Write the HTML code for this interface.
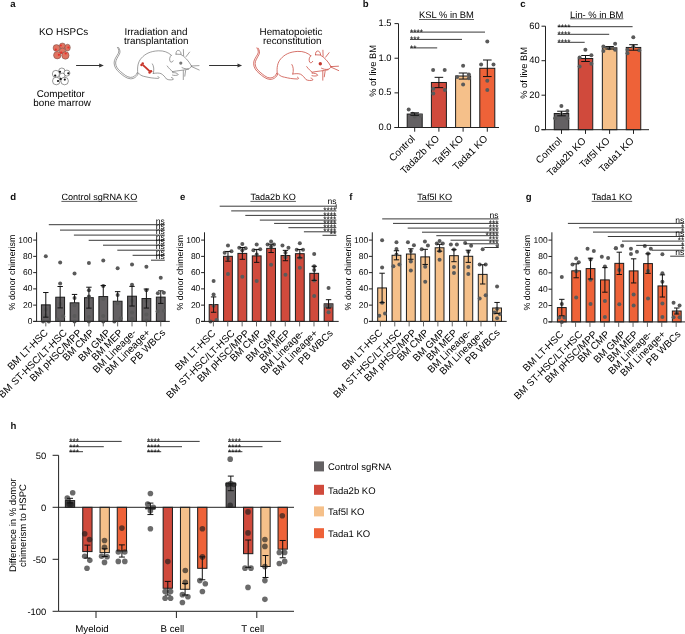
<!DOCTYPE html>
<html><head><meta charset="utf-8"><style>
html,body{margin:0;padding:0;background:#fff;}
svg{display:block;will-change:transform;}
text{font-family:"Liberation Sans", sans-serif;text-rendering:geometricPrecision;}
</style></head><body>
<svg width="685" height="634" viewBox="0 0 685 634">
<rect width="685" height="634" fill="#fff"/>
<text x="10.20" y="6.90" font-size="9.6" text-anchor="start" font-weight="bold" fill="#111">a</text>
<text x="63.60" y="34.60" font-size="9.85" text-anchor="middle" fill="#000">KO HSPCs</text>
<text x="60.80" y="96.80" font-size="9.85" text-anchor="middle" fill="#000">Competitor</text>
<text x="62.10" y="106.40" font-size="9.85" text-anchor="middle" fill="#000">bone marrow</text>
<text x="156.00" y="34.60" font-size="9.85" text-anchor="middle" fill="#000">Irradiation and</text>
<text x="156.20" y="44.10" font-size="9.85" text-anchor="middle" fill="#000">transplantation</text>
<text x="291.00" y="34.60" font-size="9.85" text-anchor="middle" fill="#000">Hematopoietic</text>
<text x="292.20" y="44.10" font-size="9.85" text-anchor="middle" fill="#000">reconstitution</text>
<ellipse cx="62.4" cy="46.0" rx="3.0" ry="3.0" fill="#df7461" stroke="#6a4a44" stroke-width="0.5"/>
<ellipse cx="67.6" cy="47.6" rx="2.7" ry="3.4" fill="#df7461" stroke="#6a4a44" stroke-width="0.5"/>
<ellipse cx="56.5" cy="48.0" rx="3.4" ry="3.4" fill="#df7461" stroke="#6a4a44" stroke-width="0.5"/>
<ellipse cx="62.5" cy="50.9" rx="3.1" ry="2.9" fill="#df7461" stroke="#6a4a44" stroke-width="0.5"/>
<ellipse cx="57.3" cy="55.2" rx="3.75" ry="3.7" fill="#df7461" stroke="#6a4a44" stroke-width="0.5"/>
<ellipse cx="65.4" cy="55.4" rx="3.65" ry="3.8" fill="#df7461" stroke="#6a4a44" stroke-width="0.5"/>
<circle cx="60.8" cy="45.5" r="1.1" fill="#e8302b"/>
<circle cx="68.4" cy="47.5" r="1.1" fill="#e8302b"/>
<circle cx="55.8" cy="49.7" r="1.1" fill="#e8302b"/>
<circle cx="61.3" cy="52.7" r="1.1" fill="#e8302b"/>
<circle cx="58.9" cy="54.8" r="1.1" fill="#e8302b"/>
<circle cx="65.7" cy="53.5" r="1.1" fill="#e8302b"/>
<circle cx="61.8" cy="71.2" r="3.2" fill="#fff" stroke="#333" stroke-width="0.5"/>
<circle cx="66.9" cy="73.1" r="3.0" fill="#fff" stroke="#333" stroke-width="0.5"/>
<circle cx="62.2" cy="75.9" r="2.8" fill="#fff" stroke="#333" stroke-width="0.5"/>
<circle cx="55.9" cy="73.9" r="3.55" fill="#fff" stroke="#333" stroke-width="0.5"/>
<circle cx="56.3" cy="81.0" r="3.8" fill="#fff" stroke="#333" stroke-width="0.5"/>
<circle cx="64.6" cy="81.0" r="3.8" fill="#fff" stroke="#333" stroke-width="0.5"/>
<circle cx="55.2" cy="75.6" r="1.1" fill="#111"/>
<circle cx="60.0" cy="71.8" r="1.1" fill="#111"/>
<circle cx="68.3" cy="73.3" r="1.1" fill="#111"/>
<circle cx="58.0" cy="81.0" r="1.1" fill="#111"/>
<circle cx="64.8" cy="79.6" r="1.1" fill="#111"/>
<circle cx="60.7" cy="79.0" r="1.1" fill="#111"/>
<line x1="76.10" y1="65.50" x2="100.80" y2="65.50" stroke="#333" stroke-width="1.0"/>
<path d="M103.8,65.5 L99.2,63.4 L99.2,67.6 Z" fill="#333"/>
<line x1="209.10" y1="65.50" x2="239.10" y2="65.50" stroke="#333" stroke-width="1.0"/>
<path d="M242.1,65.5 L237.5,63.4 L237.5,67.6 Z" fill="#333"/>
<path d="M117.4,47.3 C119,49.5 119.2,51.5 118.2,53.5 C116.5,56.5 114,59.5 114.1,63 C114.2,67 116.5,70 119.5,72.6 C122.5,75.2 126.5,78.7 130.5,78.8 C134,78.9 137.2,76.6 138.4,73.2 M118.6,47.5 C120.2,50 120.4,52 119.4,54.1 C117.9,57 115.6,60 115.6,63 C115.7,66.5 117.8,69.3 120.6,71.6 C123.4,73.9 127,77.3 130.5,77.4 C133.5,77.4 136.1,75.6 137.3,72.6 M137.8,73.5 C137,67 138,62 141.3,58.2 C145,54 150,51.2 158.3,50.8 C164,50.6 168,52.2 171.3,55.2 M171.3,55.2 C169.4,56.8 169.2,59.8 170.2,61.6 C171.2,62.6 172.6,62.2 173.2,60.8 M176,54.2 C175.8,51.6 177,50.3 178.3,50.4 C179.9,50.5 181,52 181.1,54.4 L176,54.2 M181.1,54.6 C184.6,56.6 188.6,60.6 191.5,66 M191.5,66 C191,67.6 190,68.3 188.5,68.7 C186,69.1 184,68.6 182,67.6 M188.6,69.2 C184,70.2 178,70.6 172.6,71.6 M167.2,66 C169,68.6 171,70.2 172.6,71.6 M172.6,72.6 C175,72.4 177.6,73.1 178.3,74.6 C177,75.7 174,75.6 172.5,75.1 M153.3,73.4 C156,73 159,72.8 161,73.6 C163.5,75 165,77 166.5,79 C168.5,80.1 171.6,80.1 173.2,79.5 C173.5,78.6 172.8,77.8 171.5,77.5 M152.4,63.9 C153.8,66 154.3,69.6 153.3,73.4 M139.4,74 C141,75.6 143,76.3 145,76.6 C149,77.6 153,78.3 158.3,78.4 C159.6,78 159.3,77 158,76.6 M191.5,66 L199,65.6 M191.6,66.6 L199.2,70 M183.4,49.6 L183.6,55.6 M189.6,52.1 L186.1,56.6 M183.3,70.6 L183.3,79.6 M185.6,70.6 L184.8,76.2 " fill="none" stroke="#6a6a6a" stroke-width="0.65" stroke-linecap="round"/>
<circle cx="180.8" cy="63.1" r="1.6" fill="#777"/>
<g fill="#c8352a" stroke="none"><path d="M142.8,64.9 L149.8,71.4" stroke="#c8352a" stroke-width="1.9"/><circle cx="141.5" cy="65.0" r="1.25"/><circle cx="142.7" cy="63.6" r="1.25"/><circle cx="149.6" cy="72.6" r="1.25"/><circle cx="151.0" cy="71.3" r="1.25"/></g>
<g transform="translate(139.5,0.6)"><path d="M117.4,47.3 C119,49.5 119.2,51.5 118.2,53.5 C116.5,56.5 114,59.5 114.1,63 C114.2,67 116.5,70 119.5,72.6 C122.5,75.2 126.5,78.7 130.5,78.8 C134,78.9 137.2,76.6 138.4,73.2 M118.6,47.5 C120.2,50 120.4,52 119.4,54.1 C117.9,57 115.6,60 115.6,63 C115.7,66.5 117.8,69.3 120.6,71.6 C123.4,73.9 127,77.3 130.5,77.4 C133.5,77.4 136.1,75.6 137.3,72.6 M137.8,73.5 C137,67 138,62 141.3,58.2 C145,54 150,51.2 158.3,50.8 C164,50.6 168,52.2 171.3,55.2 M171.3,55.2 C169.4,56.8 169.2,59.8 170.2,61.6 C171.2,62.6 172.6,62.2 173.2,60.8 M176,54.2 C175.8,51.6 177,50.3 178.3,50.4 C179.9,50.5 181,52 181.1,54.4 L176,54.2 M181.1,54.6 C184.6,56.6 188.6,60.6 191.5,66 M191.5,66 C191,67.6 190,68.3 188.5,68.7 C186,69.1 184,68.6 182,67.6 M188.6,69.2 C184,70.2 178,70.6 172.6,71.6 M167.2,66 C169,68.6 171,70.2 172.6,71.6 M172.6,72.6 C175,72.4 177.6,73.1 178.3,74.6 C177,75.7 174,75.6 172.5,75.1 M153.3,73.4 C156,73 159,72.8 161,73.6 C163.5,75 165,77 166.5,79 C168.5,80.1 171.6,80.1 173.2,79.5 C173.5,78.6 172.8,77.8 171.5,77.5 M152.4,63.9 C153.8,66 154.3,69.6 153.3,73.4 M139.4,74 C141,75.6 143,76.3 145,76.6 C149,77.6 153,78.3 158.3,78.4 C159.6,78 159.3,77 158,76.6 M191.5,66 L199,65.6 M191.6,66.6 L199.2,70 M183.4,49.6 L183.6,55.6 M189.6,52.1 L186.1,56.6 M183.3,70.6 L183.3,79.6 M185.6,70.6 L184.8,76.2 " fill="none" stroke="#c8443a" stroke-width="0.75" stroke-linecap="round"/><circle cx="180.8" cy="63.1" r="1.7" fill="#c4382e"/></g>
<text x="362.80" y="7.00" font-size="9.6" text-anchor="start" font-weight="bold" fill="#111">b</text>
<text x="419.00" y="18.20" font-size="9.4" text-anchor="start" fill="#000">KSL % in BM</text>
<line x1="419.00" y1="19.50" x2="474.03" y2="19.50" stroke="#333" stroke-width="0.8"/>
<text x="376.30" y="70.90" font-size="9.35" text-anchor="middle" fill="#000" transform="rotate(-90 376.30 70.90)">% of live BM</text>
<rect x="407.20" y="114.06" width="15.00" height="13.44" fill="#646163" stroke="#1c1c1c" stroke-width="1.0"/>
<rect x="431.40" y="82.48" width="15.00" height="45.02" fill="#d04a3c" stroke="#1c1c1c" stroke-width="1.0"/>
<rect x="455.60" y="76.03" width="15.00" height="51.47" fill="#f5c08a" stroke="#1c1c1c" stroke-width="1.0"/>
<rect x="479.80" y="68.28" width="15.00" height="59.22" fill="#ee6238" stroke="#1c1c1c" stroke-width="1.0"/>
<circle cx="408.70" cy="109.49" r="2.0" fill="#5a5a5a"/>
<circle cx="412.70" cy="113.65" r="2.0" fill="#5a5a5a"/>
<circle cx="416.70" cy="115.03" r="2.0" fill="#5a5a5a"/>
<circle cx="420.70" cy="115.72" r="2.0" fill="#5a5a5a"/>
<circle cx="414.70" cy="116.42" r="2.0" fill="#5a5a5a"/>
<circle cx="433.10" cy="70.01" r="2.0" fill="#5a5a5a"/>
<circle cx="444.70" cy="70.01" r="2.0" fill="#5a5a5a"/>
<circle cx="433.30" cy="88.71" r="2.0" fill="#5a5a5a"/>
<circle cx="444.90" cy="90.10" r="2.0" fill="#5a5a5a"/>
<circle cx="433.30" cy="93.56" r="2.0" fill="#5a5a5a"/>
<circle cx="463.10" cy="65.85" r="2.0" fill="#5a5a5a"/>
<circle cx="468.90" cy="74.51" r="2.0" fill="#5a5a5a"/>
<circle cx="457.10" cy="76.94" r="2.0" fill="#5a5a5a"/>
<circle cx="468.90" cy="78.32" r="2.0" fill="#5a5a5a"/>
<circle cx="463.10" cy="84.55" r="2.0" fill="#5a5a5a"/>
<circle cx="481.10" cy="64.47" r="2.0" fill="#5a5a5a"/>
<circle cx="493.50" cy="64.47" r="2.0" fill="#5a5a5a"/>
<circle cx="487.30" cy="80.75" r="2.0" fill="#5a5a5a"/>
<circle cx="487.30" cy="90.10" r="2.0" fill="#5a5a5a"/>
<circle cx="487.30" cy="41.61" r="2.0" fill="#5a5a5a"/>
<line x1="414.70" y1="112.83" x2="414.70" y2="115.29" stroke="#111" stroke-width="1.0"/>
<line x1="410.40" y1="112.83" x2="419.00" y2="112.83" stroke="#111" stroke-width="1.0"/>
<line x1="410.40" y1="115.29" x2="419.00" y2="115.29" stroke="#111" stroke-width="1.0"/>
<line x1="438.90" y1="77.33" x2="438.90" y2="87.63" stroke="#111" stroke-width="1.0"/>
<line x1="434.60" y1="77.33" x2="443.20" y2="77.33" stroke="#111" stroke-width="1.0"/>
<line x1="434.60" y1="87.63" x2="443.20" y2="87.63" stroke="#111" stroke-width="1.0"/>
<line x1="463.10" y1="73.00" x2="463.10" y2="79.07" stroke="#111" stroke-width="1.0"/>
<line x1="458.80" y1="73.00" x2="467.40" y2="73.00" stroke="#111" stroke-width="1.0"/>
<line x1="458.80" y1="79.07" x2="467.40" y2="79.07" stroke="#111" stroke-width="1.0"/>
<line x1="487.30" y1="60.00" x2="487.30" y2="76.56" stroke="#111" stroke-width="1.0"/>
<line x1="483.00" y1="60.00" x2="491.60" y2="60.00" stroke="#111" stroke-width="1.0"/>
<line x1="483.00" y1="76.56" x2="491.60" y2="76.56" stroke="#111" stroke-width="1.0"/>
<line x1="398.50" y1="23.60" x2="398.50" y2="127.50" stroke="#222" stroke-width="1.0"/>
<line x1="394.50" y1="127.50" x2="499.00" y2="127.50" stroke="#222" stroke-width="1.0"/>
<line x1="394.50" y1="127.50" x2="398.50" y2="127.50" stroke="#222" stroke-width="1.0"/>
<text x="391.50" y="129.90" font-size="9.4" text-anchor="end" fill="#000">0.0</text>
<line x1="394.50" y1="92.87" x2="398.50" y2="92.87" stroke="#222" stroke-width="1.0"/>
<text x="391.50" y="95.27" font-size="9.4" text-anchor="end" fill="#000">0.5</text>
<line x1="394.50" y1="58.23" x2="398.50" y2="58.23" stroke="#222" stroke-width="1.0"/>
<text x="391.50" y="60.63" font-size="9.4" text-anchor="end" fill="#000">1.0</text>
<line x1="394.50" y1="23.60" x2="398.50" y2="23.60" stroke="#222" stroke-width="1.0"/>
<text x="391.50" y="26.00" font-size="9.4" text-anchor="end" fill="#000">1.5</text>
<line x1="414.70" y1="127.50" x2="414.70" y2="131.70" stroke="#222" stroke-width="1.0"/>
<line x1="438.90" y1="127.50" x2="438.90" y2="131.70" stroke="#222" stroke-width="1.0"/>
<line x1="463.10" y1="127.50" x2="463.10" y2="131.70" stroke="#222" stroke-width="1.0"/>
<line x1="487.30" y1="127.50" x2="487.30" y2="131.70" stroke="#222" stroke-width="1.0"/>
<text x="415.70" y="139.30" font-size="10" text-anchor="end" fill="#000" transform="rotate(-45 415.70 139.30)">Control</text>
<text x="439.90" y="139.30" font-size="10" text-anchor="end" fill="#000" transform="rotate(-45 439.90 139.30)">Tada2b KO</text>
<text x="464.10" y="139.30" font-size="10" text-anchor="end" fill="#000" transform="rotate(-45 464.10 139.30)">Taf5l KO</text>
<text x="488.30" y="139.30" font-size="10" text-anchor="end" fill="#000" transform="rotate(-45 488.30 139.30)">Tada1 KO</text>
<line x1="410.00" y1="32.10" x2="485.00" y2="32.10" stroke="#222" stroke-width="0.9"/>
<text x="410.00" y="35.10" font-size="8.4" text-anchor="start" fill="#000">****</text>
<line x1="410.00" y1="39.40" x2="462.00" y2="39.40" stroke="#222" stroke-width="0.9"/>
<text x="410.00" y="42.40" font-size="8.4" text-anchor="start" fill="#000">***</text>
<line x1="410.00" y1="47.90" x2="437.20" y2="47.90" stroke="#222" stroke-width="0.9"/>
<text x="410.00" y="50.90" font-size="8.4" text-anchor="start" fill="#000">**</text>
<text x="520.30" y="7.00" font-size="9.6" text-anchor="start" font-weight="bold" fill="#111">c</text>
<text x="570.10" y="17.50" font-size="9.4" text-anchor="start" fill="#000">Lin- % in BM</text>
<line x1="570.10" y1="18.80" x2="623.38" y2="18.80" stroke="#333" stroke-width="0.8"/>
<text x="527.00" y="72.90" font-size="9.35" text-anchor="middle" fill="#000" transform="rotate(-90 527.00 72.90)">% of live BM</text>
<rect x="554.25" y="113.52" width="14.50" height="16.18" fill="#646163" stroke="#1c1c1c" stroke-width="1.0"/>
<rect x="578.25" y="58.49" width="14.50" height="71.21" fill="#d04a3c" stroke="#1c1c1c" stroke-width="1.0"/>
<rect x="602.35" y="47.83" width="14.50" height="81.87" fill="#f5c08a" stroke="#1c1c1c" stroke-width="1.0"/>
<rect x="626.25" y="47.45" width="14.50" height="82.25" fill="#ee6238" stroke="#1c1c1c" stroke-width="1.0"/>
<circle cx="561.40" cy="106.07" r="2.0" fill="#5a5a5a"/>
<circle cx="567.40" cy="110.90" r="2.0" fill="#5a5a5a"/>
<circle cx="555.10" cy="118.14" r="2.0" fill="#5a5a5a"/>
<circle cx="567.40" cy="118.14" r="2.0" fill="#5a5a5a"/>
<circle cx="561.40" cy="114.35" r="2.0" fill="#5a5a5a"/>
<circle cx="585.40" cy="49.66" r="2.0" fill="#5a5a5a"/>
<circle cx="579.60" cy="57.42" r="2.0" fill="#5a5a5a"/>
<circle cx="591.40" cy="55.18" r="2.0" fill="#5a5a5a"/>
<circle cx="579.60" cy="66.39" r="2.0" fill="#5a5a5a"/>
<circle cx="591.40" cy="63.80" r="2.0" fill="#5a5a5a"/>
<circle cx="603.40" cy="46.38" r="2.0" fill="#5a5a5a"/>
<circle cx="615.10" cy="43.80" r="2.0" fill="#5a5a5a"/>
<circle cx="609.20" cy="48.28" r="2.0" fill="#5a5a5a"/>
<circle cx="603.40" cy="51.04" r="2.0" fill="#5a5a5a"/>
<circle cx="615.10" cy="49.66" r="2.0" fill="#5a5a5a"/>
<circle cx="633.30" cy="37.24" r="2.0" fill="#5a5a5a"/>
<circle cx="627.50" cy="53.28" r="2.0" fill="#5a5a5a"/>
<circle cx="639.20" cy="50.35" r="2.0" fill="#5a5a5a"/>
<circle cx="633.30" cy="46.73" r="2.0" fill="#5a5a5a"/>
<circle cx="627.50" cy="49.66" r="2.0" fill="#5a5a5a"/>
<line x1="561.50" y1="111.22" x2="561.50" y2="115.82" stroke="#111" stroke-width="1.0"/>
<line x1="557.20" y1="111.22" x2="565.80" y2="111.22" stroke="#111" stroke-width="1.0"/>
<line x1="557.20" y1="115.82" x2="565.80" y2="115.82" stroke="#111" stroke-width="1.0"/>
<line x1="585.50" y1="55.49" x2="585.50" y2="61.50" stroke="#111" stroke-width="1.0"/>
<line x1="581.20" y1="55.49" x2="589.80" y2="55.49" stroke="#111" stroke-width="1.0"/>
<line x1="581.20" y1="61.50" x2="589.80" y2="61.50" stroke="#111" stroke-width="1.0"/>
<line x1="609.60" y1="46.56" x2="609.60" y2="49.10" stroke="#111" stroke-width="1.0"/>
<line x1="605.30" y1="46.56" x2="613.90" y2="46.56" stroke="#111" stroke-width="1.0"/>
<line x1="605.30" y1="49.10" x2="613.90" y2="49.10" stroke="#111" stroke-width="1.0"/>
<line x1="633.50" y1="44.69" x2="633.50" y2="50.21" stroke="#111" stroke-width="1.0"/>
<line x1="629.20" y1="44.69" x2="637.80" y2="44.69" stroke="#111" stroke-width="1.0"/>
<line x1="629.20" y1="50.21" x2="637.80" y2="50.21" stroke="#111" stroke-width="1.0"/>
<line x1="545.50" y1="26.20" x2="545.50" y2="129.70" stroke="#222" stroke-width="1.0"/>
<line x1="541.50" y1="129.70" x2="649.00" y2="129.70" stroke="#222" stroke-width="1.0"/>
<line x1="541.50" y1="129.70" x2="545.50" y2="129.70" stroke="#222" stroke-width="1.0"/>
<text x="539.80" y="132.10" font-size="9.4" text-anchor="end" fill="#000">0</text>
<line x1="541.50" y1="95.20" x2="545.50" y2="95.20" stroke="#222" stroke-width="1.0"/>
<text x="539.80" y="97.60" font-size="9.4" text-anchor="end" fill="#000">20</text>
<line x1="541.50" y1="60.70" x2="545.50" y2="60.70" stroke="#222" stroke-width="1.0"/>
<text x="539.80" y="63.10" font-size="9.4" text-anchor="end" fill="#000">40</text>
<line x1="541.50" y1="26.20" x2="545.50" y2="26.20" stroke="#222" stroke-width="1.0"/>
<text x="539.80" y="28.60" font-size="9.4" text-anchor="end" fill="#000">60</text>
<line x1="561.50" y1="129.70" x2="561.50" y2="133.90" stroke="#222" stroke-width="1.0"/>
<line x1="585.50" y1="129.70" x2="585.50" y2="133.90" stroke="#222" stroke-width="1.0"/>
<line x1="609.60" y1="129.70" x2="609.60" y2="133.90" stroke="#222" stroke-width="1.0"/>
<line x1="633.50" y1="129.70" x2="633.50" y2="133.90" stroke="#222" stroke-width="1.0"/>
<text x="562.50" y="141.50" font-size="10" text-anchor="end" fill="#000" transform="rotate(-45 562.50 141.50)">Control</text>
<text x="586.50" y="141.50" font-size="10" text-anchor="end" fill="#000" transform="rotate(-45 586.50 141.50)">Tada2b KO</text>
<text x="610.60" y="141.50" font-size="10" text-anchor="end" fill="#000" transform="rotate(-45 610.60 141.50)">Taf5l KO</text>
<text x="634.50" y="141.50" font-size="10" text-anchor="end" fill="#000" transform="rotate(-45 634.50 141.50)">Tada1 KO</text>
<line x1="557.60" y1="26.70" x2="632.60" y2="26.70" stroke="#222" stroke-width="0.9"/>
<text x="557.60" y="29.70" font-size="8.4" text-anchor="start" fill="#000">****</text>
<line x1="557.60" y1="34.30" x2="609.20" y2="34.30" stroke="#222" stroke-width="0.9"/>
<text x="557.60" y="37.30" font-size="8.4" text-anchor="start" fill="#000">****</text>
<line x1="557.60" y1="42.30" x2="584.70" y2="42.30" stroke="#222" stroke-width="0.9"/>
<text x="557.60" y="45.30" font-size="8.4" text-anchor="start" fill="#000">****</text>
<text x="10.20" y="199.50" font-size="9.6" text-anchor="start" font-weight="bold" fill="#111">d</text>
<text x="61.40" y="199.80" font-size="9.1" text-anchor="start" fill="#000">Control sgRNA KO</text>
<line x1="61.40" y1="201.40" x2="137.26" y2="201.40" stroke="#333" stroke-width="0.8"/>
<text x="15.30" y="272.60" font-size="8.85" text-anchor="middle" fill="#000" transform="rotate(-90 15.30 272.60)">% donor chimerism</text>
<rect x="41.40" y="304.85" width="8.80" height="16.55" fill="#646163" stroke="#1c1c1c" stroke-width="1.0"/>
<rect x="55.77" y="297.21" width="8.80" height="24.19" fill="#646163" stroke="#1c1c1c" stroke-width="1.0"/>
<rect x="70.14" y="302.83" width="8.80" height="18.57" fill="#646163" stroke="#1c1c1c" stroke-width="1.0"/>
<rect x="84.51" y="297.68" width="8.80" height="23.72" fill="#646163" stroke="#1c1c1c" stroke-width="1.0"/>
<rect x="98.88" y="296.57" width="8.80" height="24.83" fill="#646163" stroke="#1c1c1c" stroke-width="1.0"/>
<rect x="113.25" y="301.24" width="8.80" height="20.16" fill="#646163" stroke="#1c1c1c" stroke-width="1.0"/>
<rect x="127.62" y="296.21" width="8.80" height="25.19" fill="#646163" stroke="#1c1c1c" stroke-width="1.0"/>
<rect x="141.99" y="298.55" width="8.80" height="22.85" fill="#646163" stroke="#1c1c1c" stroke-width="1.0"/>
<rect x="156.36" y="297.12" width="8.80" height="24.28" fill="#646163" stroke="#1c1c1c" stroke-width="1.0"/>
<circle cx="45.80" cy="256.36" r="2.0" fill="#5a5a5a"/>
<circle cx="45.80" cy="309.61" r="2.0" fill="#5a5a5a"/>
<circle cx="45.80" cy="315.47" r="2.0" fill="#5a5a5a"/>
<circle cx="43.10" cy="321.40" r="2.0" fill="#5a5a5a"/>
<circle cx="48.80" cy="321.40" r="2.0" fill="#5a5a5a"/>
<circle cx="60.17" cy="262.62" r="2.0" fill="#5a5a5a"/>
<circle cx="60.17" cy="283.60" r="2.0" fill="#5a5a5a"/>
<circle cx="60.17" cy="304.08" r="2.0" fill="#5a5a5a"/>
<circle cx="63.17" cy="316.20" r="2.0" fill="#5a5a5a"/>
<circle cx="57.27" cy="319.53" r="2.0" fill="#5a5a5a"/>
<circle cx="74.54" cy="273.43" r="2.0" fill="#5a5a5a"/>
<circle cx="74.54" cy="297.99" r="2.0" fill="#5a5a5a"/>
<circle cx="74.54" cy="305.30" r="2.0" fill="#5a5a5a"/>
<circle cx="74.54" cy="316.03" r="2.0" fill="#5a5a5a"/>
<circle cx="74.54" cy="321.40" r="2.0" fill="#5a5a5a"/>
<circle cx="88.91" cy="263.11" r="2.0" fill="#5a5a5a"/>
<circle cx="88.91" cy="290.34" r="2.0" fill="#5a5a5a"/>
<circle cx="88.91" cy="296.44" r="2.0" fill="#5a5a5a"/>
<circle cx="88.91" cy="317.09" r="2.0" fill="#5a5a5a"/>
<circle cx="88.91" cy="321.40" r="2.0" fill="#5a5a5a"/>
<circle cx="103.28" cy="260.43" r="2.0" fill="#5a5a5a"/>
<circle cx="103.28" cy="285.95" r="2.0" fill="#5a5a5a"/>
<circle cx="103.28" cy="299.04" r="2.0" fill="#5a5a5a"/>
<circle cx="103.28" cy="316.03" r="2.0" fill="#5a5a5a"/>
<circle cx="103.28" cy="321.40" r="2.0" fill="#5a5a5a"/>
<circle cx="117.65" cy="268.23" r="2.0" fill="#5a5a5a"/>
<circle cx="117.65" cy="294.98" r="2.0" fill="#5a5a5a"/>
<circle cx="117.65" cy="303.27" r="2.0" fill="#5a5a5a"/>
<circle cx="120.65" cy="318.31" r="2.0" fill="#5a5a5a"/>
<circle cx="114.35" cy="321.40" r="2.0" fill="#5a5a5a"/>
<circle cx="132.02" cy="264.49" r="2.0" fill="#5a5a5a"/>
<circle cx="132.02" cy="284.65" r="2.0" fill="#5a5a5a"/>
<circle cx="132.02" cy="300.83" r="2.0" fill="#5a5a5a"/>
<circle cx="132.02" cy="312.46" r="2.0" fill="#5a5a5a"/>
<circle cx="132.02" cy="318.64" r="2.0" fill="#5a5a5a"/>
<circle cx="146.39" cy="266.85" r="2.0" fill="#5a5a5a"/>
<circle cx="146.39" cy="290.26" r="2.0" fill="#5a5a5a"/>
<circle cx="146.39" cy="300.83" r="2.0" fill="#5a5a5a"/>
<circle cx="146.39" cy="314.41" r="2.0" fill="#5a5a5a"/>
<circle cx="146.39" cy="320.42" r="2.0" fill="#5a5a5a"/>
<circle cx="160.76" cy="277.74" r="2.0" fill="#5a5a5a"/>
<circle cx="157.86" cy="293.27" r="2.0" fill="#5a5a5a"/>
<circle cx="163.86" cy="292.70" r="2.0" fill="#5a5a5a"/>
<circle cx="157.66" cy="311.16" r="2.0" fill="#5a5a5a"/>
<circle cx="163.86" cy="310.75" r="2.0" fill="#5a5a5a"/>
<line x1="45.80" y1="292.53" x2="45.80" y2="317.16" stroke="#111" stroke-width="1.0"/>
<line x1="43.10" y1="292.53" x2="48.50" y2="292.53" stroke="#111" stroke-width="1.0"/>
<line x1="43.10" y1="317.16" x2="48.50" y2="317.16" stroke="#111" stroke-width="1.0"/>
<line x1="60.17" y1="286.51" x2="60.17" y2="307.90" stroke="#111" stroke-width="1.0"/>
<line x1="57.47" y1="286.51" x2="62.87" y2="286.51" stroke="#111" stroke-width="1.0"/>
<line x1="57.47" y1="307.90" x2="62.87" y2="307.90" stroke="#111" stroke-width="1.0"/>
<line x1="74.54" y1="294.43" x2="74.54" y2="302.83" stroke="#111" stroke-width="1.0"/>
<line x1="71.84" y1="294.43" x2="77.24" y2="294.43" stroke="#111" stroke-width="1.0"/>
<line x1="88.91" y1="287.21" x2="88.91" y2="308.14" stroke="#111" stroke-width="1.0"/>
<line x1="86.21" y1="287.21" x2="91.61" y2="287.21" stroke="#111" stroke-width="1.0"/>
<line x1="86.21" y1="308.14" x2="91.61" y2="308.14" stroke="#111" stroke-width="1.0"/>
<line x1="103.28" y1="285.57" x2="103.28" y2="296.57" stroke="#111" stroke-width="1.0"/>
<line x1="100.58" y1="285.57" x2="105.98" y2="285.57" stroke="#111" stroke-width="1.0"/>
<line x1="117.65" y1="291.67" x2="117.65" y2="301.24" stroke="#111" stroke-width="1.0"/>
<line x1="114.95" y1="291.67" x2="120.35" y2="291.67" stroke="#111" stroke-width="1.0"/>
<line x1="132.02" y1="286.39" x2="132.02" y2="306.03" stroke="#111" stroke-width="1.0"/>
<line x1="129.32" y1="286.39" x2="134.72" y2="286.39" stroke="#111" stroke-width="1.0"/>
<line x1="129.32" y1="306.03" x2="134.72" y2="306.03" stroke="#111" stroke-width="1.0"/>
<line x1="146.39" y1="289.04" x2="146.39" y2="308.06" stroke="#111" stroke-width="1.0"/>
<line x1="143.69" y1="289.04" x2="149.09" y2="289.04" stroke="#111" stroke-width="1.0"/>
<line x1="143.69" y1="308.06" x2="149.09" y2="308.06" stroke="#111" stroke-width="1.0"/>
<line x1="160.76" y1="290.83" x2="160.76" y2="303.42" stroke="#111" stroke-width="1.0"/>
<line x1="158.06" y1="290.83" x2="163.46" y2="290.83" stroke="#111" stroke-width="1.0"/>
<line x1="158.06" y1="303.42" x2="163.46" y2="303.42" stroke="#111" stroke-width="1.0"/>
<line x1="36.60" y1="232.30" x2="36.60" y2="321.40" stroke="#222" stroke-width="1.0"/>
<line x1="33.20" y1="321.40" x2="169.80" y2="321.40" stroke="#222" stroke-width="1.0"/>
<line x1="33.20" y1="321.40" x2="36.60" y2="321.40" stroke="#222" stroke-width="1.0"/>
<text x="32.40" y="323.90" font-size="8.45" text-anchor="end" fill="#000">0</text>
<line x1="33.20" y1="305.14" x2="36.60" y2="305.14" stroke="#222" stroke-width="1.0"/>
<text x="32.40" y="307.64" font-size="8.45" text-anchor="end" fill="#000">20</text>
<line x1="33.20" y1="288.88" x2="36.60" y2="288.88" stroke="#222" stroke-width="1.0"/>
<text x="32.40" y="291.38" font-size="8.45" text-anchor="end" fill="#000">40</text>
<line x1="33.20" y1="272.62" x2="36.60" y2="272.62" stroke="#222" stroke-width="1.0"/>
<text x="32.40" y="275.12" font-size="8.45" text-anchor="end" fill="#000">60</text>
<line x1="33.20" y1="256.36" x2="36.60" y2="256.36" stroke="#222" stroke-width="1.0"/>
<text x="32.40" y="258.86" font-size="8.45" text-anchor="end" fill="#000">80</text>
<line x1="33.20" y1="240.10" x2="36.60" y2="240.10" stroke="#222" stroke-width="1.0"/>
<text x="32.40" y="242.60" font-size="8.45" text-anchor="end" fill="#000">100</text>
<line x1="45.80" y1="321.40" x2="45.80" y2="326.40" stroke="#555" stroke-width="0.9"/>
<line x1="60.17" y1="321.40" x2="60.17" y2="326.40" stroke="#555" stroke-width="0.9"/>
<line x1="74.54" y1="321.40" x2="74.54" y2="326.40" stroke="#555" stroke-width="0.9"/>
<line x1="88.91" y1="321.40" x2="88.91" y2="326.40" stroke="#555" stroke-width="0.9"/>
<line x1="103.28" y1="321.40" x2="103.28" y2="326.40" stroke="#555" stroke-width="0.9"/>
<line x1="117.65" y1="321.40" x2="117.65" y2="326.40" stroke="#555" stroke-width="0.9"/>
<line x1="132.02" y1="321.40" x2="132.02" y2="326.40" stroke="#555" stroke-width="0.9"/>
<line x1="146.39" y1="321.40" x2="146.39" y2="326.40" stroke="#555" stroke-width="0.9"/>
<line x1="160.76" y1="321.40" x2="160.76" y2="326.40" stroke="#555" stroke-width="0.9"/>
<text x="48.60" y="333.30" font-size="10" text-anchor="end" fill="#000" transform="rotate(-45 48.60 333.30)">BM LT-HSC</text>
<text x="67.67" y="333.30" font-size="10" text-anchor="end" fill="#000" transform="rotate(-45 67.67 333.30)">BM ST-HSC/LT-HSC</text>
<text x="82.44" y="333.30" font-size="10" text-anchor="end" fill="#000" transform="rotate(-45 82.44 333.30)">BM pHSC/MPP</text>
<text x="94.71" y="333.30" font-size="10" text-anchor="end" fill="#000" transform="rotate(-45 94.71 333.30)">BM CMP</text>
<text x="110.88" y="333.30" font-size="10" text-anchor="end" fill="#000" transform="rotate(-45 110.88 333.30)">BM GMP</text>
<text x="123.45" y="333.30" font-size="10" text-anchor="end" fill="#000" transform="rotate(-45 123.45 333.30)">BM MEP</text>
<text x="136.92" y="333.30" font-size="10" text-anchor="end" fill="#000" transform="rotate(-45 136.92 333.30)">BM Lineage-</text>
<text x="150.79" y="333.30" font-size="10" text-anchor="end" fill="#000" transform="rotate(-45 150.79 333.30)">BM Lineage+</text>
<text x="165.96" y="333.30" font-size="10" text-anchor="end" fill="#000" transform="rotate(-45 165.96 333.30)">PB WBCs</text>
<line x1="48.80" y1="224.70" x2="164.80" y2="224.70" stroke="#222" stroke-width="0.9"/>
<text x="164.80" y="223.90" font-size="8.5" text-anchor="end" fill="#000">ns</text>
<line x1="60.00" y1="230.10" x2="164.80" y2="230.10" stroke="#222" stroke-width="0.9"/>
<text x="164.80" y="229.30" font-size="8.5" text-anchor="end" fill="#000">ns</text>
<line x1="73.90" y1="235.10" x2="164.80" y2="235.10" stroke="#222" stroke-width="0.9"/>
<text x="164.80" y="234.30" font-size="8.5" text-anchor="end" fill="#000">ns</text>
<line x1="88.70" y1="240.30" x2="164.80" y2="240.30" stroke="#222" stroke-width="0.9"/>
<text x="164.80" y="239.50" font-size="8.5" text-anchor="end" fill="#000">ns</text>
<line x1="103.00" y1="245.20" x2="164.80" y2="245.20" stroke="#222" stroke-width="0.9"/>
<text x="164.80" y="244.40" font-size="8.5" text-anchor="end" fill="#000">ns</text>
<line x1="117.30" y1="250.20" x2="164.80" y2="250.20" stroke="#222" stroke-width="0.9"/>
<text x="164.80" y="249.40" font-size="8.5" text-anchor="end" fill="#000">ns</text>
<line x1="132.60" y1="255.30" x2="164.80" y2="255.30" stroke="#222" stroke-width="0.9"/>
<text x="164.80" y="254.50" font-size="8.5" text-anchor="end" fill="#000">ns</text>
<line x1="151.00" y1="260.20" x2="164.80" y2="260.20" stroke="#222" stroke-width="0.9"/>
<text x="164.80" y="259.40" font-size="8.5" text-anchor="end" fill="#000">ns</text>
<line x1="336.20" y1="204.20" x2="336.20" y2="208.80" stroke="#222" stroke-width="0.8"/>
<text x="179.90" y="199.50" font-size="9.6" text-anchor="start" font-weight="bold" fill="#111">e</text>
<text x="250.40" y="199.80" font-size="9.1" text-anchor="start" fill="#000">Tada2b KO</text>
<line x1="250.40" y1="201.40" x2="295.93" y2="201.40" stroke="#333" stroke-width="0.8"/>
<text x="183.20" y="272.60" font-size="8.85" text-anchor="middle" fill="#000" transform="rotate(-90 183.20 272.60)">% donor chimerism</text>
<rect x="209.20" y="304.59" width="8.80" height="16.81" fill="#d04a3c" stroke="#1c1c1c" stroke-width="1.0"/>
<rect x="223.57" y="256.33" width="8.80" height="65.07" fill="#d04a3c" stroke="#1c1c1c" stroke-width="1.0"/>
<rect x="237.94" y="253.40" width="8.80" height="68.00" fill="#d04a3c" stroke="#1c1c1c" stroke-width="1.0"/>
<rect x="252.31" y="255.89" width="8.80" height="65.51" fill="#d04a3c" stroke="#1c1c1c" stroke-width="1.0"/>
<rect x="266.68" y="248.36" width="8.80" height="73.04" fill="#d04a3c" stroke="#1c1c1c" stroke-width="1.0"/>
<rect x="281.05" y="255.55" width="8.80" height="65.85" fill="#d04a3c" stroke="#1c1c1c" stroke-width="1.0"/>
<rect x="295.42" y="253.69" width="8.80" height="67.71" fill="#d04a3c" stroke="#1c1c1c" stroke-width="1.0"/>
<rect x="309.79" y="273.34" width="8.80" height="48.06" fill="#d04a3c" stroke="#1c1c1c" stroke-width="1.0"/>
<rect x="324.16" y="303.84" width="8.80" height="17.56" fill="#d04a3c" stroke="#1c1c1c" stroke-width="1.0"/>
<circle cx="213.60" cy="281.08" r="2.0" fill="#5a5a5a"/>
<circle cx="213.60" cy="294.57" r="2.0" fill="#5a5a5a"/>
<circle cx="213.60" cy="305.79" r="2.0" fill="#5a5a5a"/>
<circle cx="210.50" cy="321.40" r="2.0" fill="#5a5a5a"/>
<circle cx="216.50" cy="320.10" r="2.0" fill="#5a5a5a"/>
<circle cx="227.97" cy="245.47" r="2.0" fill="#5a5a5a"/>
<circle cx="224.67" cy="252.70" r="2.0" fill="#5a5a5a"/>
<circle cx="231.47" cy="251.16" r="2.0" fill="#5a5a5a"/>
<circle cx="227.97" cy="258.31" r="2.0" fill="#5a5a5a"/>
<circle cx="227.97" cy="274.00" r="2.0" fill="#5a5a5a"/>
<circle cx="242.34" cy="244.00" r="2.0" fill="#5a5a5a"/>
<circle cx="239.24" cy="247.82" r="2.0" fill="#5a5a5a"/>
<circle cx="245.64" cy="248.15" r="2.0" fill="#5a5a5a"/>
<circle cx="242.34" cy="250.34" r="2.0" fill="#5a5a5a"/>
<circle cx="242.34" cy="276.69" r="2.0" fill="#5a5a5a"/>
<circle cx="256.71" cy="244.49" r="2.0" fill="#5a5a5a"/>
<circle cx="253.41" cy="250.18" r="2.0" fill="#5a5a5a"/>
<circle cx="260.21" cy="249.29" r="2.0" fill="#5a5a5a"/>
<circle cx="256.71" cy="254.57" r="2.0" fill="#5a5a5a"/>
<circle cx="256.71" cy="280.91" r="2.0" fill="#5a5a5a"/>
<circle cx="271.08" cy="241.48" r="2.0" fill="#5a5a5a"/>
<circle cx="267.58" cy="244.49" r="2.0" fill="#5a5a5a"/>
<circle cx="273.98" cy="244.49" r="2.0" fill="#5a5a5a"/>
<circle cx="271.08" cy="246.69" r="2.0" fill="#5a5a5a"/>
<circle cx="271.08" cy="264.65" r="2.0" fill="#5a5a5a"/>
<circle cx="282.45" cy="245.47" r="2.0" fill="#5a5a5a"/>
<circle cx="288.45" cy="247.74" r="2.0" fill="#5a5a5a"/>
<circle cx="285.45" cy="252.70" r="2.0" fill="#5a5a5a"/>
<circle cx="285.45" cy="257.17" r="2.0" fill="#5a5a5a"/>
<circle cx="285.45" cy="274.65" r="2.0" fill="#5a5a5a"/>
<circle cx="299.82" cy="243.35" r="2.0" fill="#5a5a5a"/>
<circle cx="296.72" cy="249.77" r="2.0" fill="#5a5a5a"/>
<circle cx="303.02" cy="249.77" r="2.0" fill="#5a5a5a"/>
<circle cx="299.82" cy="257.82" r="2.0" fill="#5a5a5a"/>
<circle cx="299.82" cy="267.74" r="2.0" fill="#5a5a5a"/>
<circle cx="314.19" cy="254.08" r="2.0" fill="#5a5a5a"/>
<circle cx="314.19" cy="266.20" r="2.0" fill="#5a5a5a"/>
<circle cx="314.19" cy="269.94" r="2.0" fill="#5a5a5a"/>
<circle cx="314.19" cy="280.42" r="2.0" fill="#5a5a5a"/>
<circle cx="314.19" cy="296.03" r="2.0" fill="#5a5a5a"/>
<circle cx="328.56" cy="287.90" r="2.0" fill="#5a5a5a"/>
<circle cx="325.76" cy="305.87" r="2.0" fill="#5a5a5a"/>
<circle cx="331.06" cy="305.87" r="2.0" fill="#5a5a5a"/>
<circle cx="328.56" cy="307.34" r="2.0" fill="#5a5a5a"/>
<circle cx="328.56" cy="312.21" r="2.0" fill="#5a5a5a"/>
<line x1="213.60" y1="296.91" x2="213.60" y2="312.26" stroke="#111" stroke-width="1.0"/>
<line x1="210.90" y1="296.91" x2="216.30" y2="296.91" stroke="#111" stroke-width="1.0"/>
<line x1="210.90" y1="312.26" x2="216.30" y2="312.26" stroke="#111" stroke-width="1.0"/>
<line x1="227.97" y1="251.46" x2="227.97" y2="261.20" stroke="#111" stroke-width="1.0"/>
<line x1="225.27" y1="251.46" x2="230.67" y2="251.46" stroke="#111" stroke-width="1.0"/>
<line x1="225.27" y1="261.20" x2="230.67" y2="261.20" stroke="#111" stroke-width="1.0"/>
<line x1="242.34" y1="247.49" x2="242.34" y2="259.31" stroke="#111" stroke-width="1.0"/>
<line x1="239.64" y1="247.49" x2="245.04" y2="247.49" stroke="#111" stroke-width="1.0"/>
<line x1="239.64" y1="259.31" x2="245.04" y2="259.31" stroke="#111" stroke-width="1.0"/>
<line x1="256.71" y1="249.43" x2="256.71" y2="262.35" stroke="#111" stroke-width="1.0"/>
<line x1="254.01" y1="249.43" x2="259.41" y2="249.43" stroke="#111" stroke-width="1.0"/>
<line x1="254.01" y1="262.35" x2="259.41" y2="262.35" stroke="#111" stroke-width="1.0"/>
<line x1="271.08" y1="244.20" x2="271.08" y2="252.52" stroke="#111" stroke-width="1.0"/>
<line x1="268.38" y1="244.20" x2="273.78" y2="244.20" stroke="#111" stroke-width="1.0"/>
<line x1="268.38" y1="252.52" x2="273.78" y2="252.52" stroke="#111" stroke-width="1.0"/>
<line x1="285.45" y1="250.36" x2="285.45" y2="260.73" stroke="#111" stroke-width="1.0"/>
<line x1="282.75" y1="250.36" x2="288.15" y2="250.36" stroke="#111" stroke-width="1.0"/>
<line x1="282.75" y1="260.73" x2="288.15" y2="260.73" stroke="#111" stroke-width="1.0"/>
<line x1="299.82" y1="249.50" x2="299.82" y2="257.89" stroke="#111" stroke-width="1.0"/>
<line x1="297.12" y1="249.50" x2="302.52" y2="249.50" stroke="#111" stroke-width="1.0"/>
<line x1="297.12" y1="257.89" x2="302.52" y2="257.89" stroke="#111" stroke-width="1.0"/>
<line x1="314.19" y1="266.27" x2="314.19" y2="280.40" stroke="#111" stroke-width="1.0"/>
<line x1="311.49" y1="266.27" x2="316.89" y2="266.27" stroke="#111" stroke-width="1.0"/>
<line x1="311.49" y1="280.40" x2="316.89" y2="280.40" stroke="#111" stroke-width="1.0"/>
<line x1="328.56" y1="299.69" x2="328.56" y2="307.99" stroke="#111" stroke-width="1.0"/>
<line x1="325.86" y1="299.69" x2="331.26" y2="299.69" stroke="#111" stroke-width="1.0"/>
<line x1="325.86" y1="307.99" x2="331.26" y2="307.99" stroke="#111" stroke-width="1.0"/>
<line x1="204.50" y1="232.30" x2="204.50" y2="321.40" stroke="#222" stroke-width="1.0"/>
<line x1="201.10" y1="321.40" x2="338.70" y2="321.40" stroke="#222" stroke-width="1.0"/>
<line x1="201.10" y1="321.40" x2="204.50" y2="321.40" stroke="#222" stroke-width="1.0"/>
<text x="200.30" y="323.90" font-size="8.45" text-anchor="end" fill="#000">0</text>
<line x1="201.10" y1="305.14" x2="204.50" y2="305.14" stroke="#222" stroke-width="1.0"/>
<text x="200.30" y="307.64" font-size="8.45" text-anchor="end" fill="#000">20</text>
<line x1="201.10" y1="288.88" x2="204.50" y2="288.88" stroke="#222" stroke-width="1.0"/>
<text x="200.30" y="291.38" font-size="8.45" text-anchor="end" fill="#000">40</text>
<line x1="201.10" y1="272.62" x2="204.50" y2="272.62" stroke="#222" stroke-width="1.0"/>
<text x="200.30" y="275.12" font-size="8.45" text-anchor="end" fill="#000">60</text>
<line x1="201.10" y1="256.36" x2="204.50" y2="256.36" stroke="#222" stroke-width="1.0"/>
<text x="200.30" y="258.86" font-size="8.45" text-anchor="end" fill="#000">80</text>
<line x1="201.10" y1="240.10" x2="204.50" y2="240.10" stroke="#222" stroke-width="1.0"/>
<text x="200.30" y="242.60" font-size="8.45" text-anchor="end" fill="#000">100</text>
<line x1="213.40" y1="321.40" x2="213.40" y2="326.40" stroke="#555" stroke-width="0.9"/>
<line x1="227.77" y1="321.40" x2="227.77" y2="326.40" stroke="#555" stroke-width="0.9"/>
<line x1="242.14" y1="321.40" x2="242.14" y2="326.40" stroke="#555" stroke-width="0.9"/>
<line x1="256.51" y1="321.40" x2="256.51" y2="326.40" stroke="#555" stroke-width="0.9"/>
<line x1="270.88" y1="321.40" x2="270.88" y2="326.40" stroke="#555" stroke-width="0.9"/>
<line x1="285.25" y1="321.40" x2="285.25" y2="326.40" stroke="#555" stroke-width="0.9"/>
<line x1="299.62" y1="321.40" x2="299.62" y2="326.40" stroke="#555" stroke-width="0.9"/>
<line x1="313.99" y1="321.40" x2="313.99" y2="326.40" stroke="#555" stroke-width="0.9"/>
<line x1="328.36" y1="321.40" x2="328.36" y2="326.40" stroke="#555" stroke-width="0.9"/>
<text x="216.20" y="333.80" font-size="10" text-anchor="end" fill="#000" transform="rotate(-45 216.20 333.80)">BM LT-HSC</text>
<text x="235.27" y="333.80" font-size="10" text-anchor="end" fill="#000" transform="rotate(-45 235.27 333.80)">BM ST-HSC/LT-HSC</text>
<text x="250.04" y="333.80" font-size="10" text-anchor="end" fill="#000" transform="rotate(-45 250.04 333.80)">BM pHSC/MPP</text>
<text x="262.31" y="333.80" font-size="10" text-anchor="end" fill="#000" transform="rotate(-45 262.31 333.80)">BM CMP</text>
<text x="278.48" y="333.80" font-size="10" text-anchor="end" fill="#000" transform="rotate(-45 278.48 333.80)">BM GMP</text>
<text x="291.05" y="333.80" font-size="10" text-anchor="end" fill="#000" transform="rotate(-45 291.05 333.80)">BM MEP</text>
<text x="304.52" y="333.80" font-size="10" text-anchor="end" fill="#000" transform="rotate(-45 304.52 333.80)">BM Lineage-</text>
<text x="318.39" y="333.80" font-size="10" text-anchor="end" fill="#000" transform="rotate(-45 318.39 333.80)">BM Lineage+</text>
<text x="333.56" y="333.80" font-size="10" text-anchor="end" fill="#000" transform="rotate(-45 333.56 333.80)">PB WBCs</text>
<line x1="219.70" y1="206.20" x2="336.40" y2="206.20" stroke="#222" stroke-width="0.9"/>
<text x="336.40" y="203.60" font-size="8.5" text-anchor="end" fill="#000">ns</text>
<line x1="231.20" y1="210.90" x2="336.40" y2="210.90" stroke="#222" stroke-width="0.9"/>
<text x="336.40" y="213.00" font-size="8.4" text-anchor="end" fill="#000">****</text>
<line x1="245.30" y1="215.40" x2="336.40" y2="215.40" stroke="#222" stroke-width="0.9"/>
<text x="336.40" y="217.50" font-size="8.4" text-anchor="end" fill="#000">****</text>
<line x1="259.80" y1="220.10" x2="336.40" y2="220.10" stroke="#222" stroke-width="0.9"/>
<text x="336.40" y="222.20" font-size="8.4" text-anchor="end" fill="#000">****</text>
<line x1="274.10" y1="223.40" x2="336.40" y2="223.40" stroke="#222" stroke-width="0.9"/>
<text x="336.40" y="225.50" font-size="8.4" text-anchor="end" fill="#000">****</text>
<line x1="288.40" y1="227.70" x2="336.40" y2="227.70" stroke="#222" stroke-width="0.9"/>
<text x="336.40" y="229.80" font-size="8.4" text-anchor="end" fill="#000">****</text>
<line x1="303.90" y1="231.80" x2="336.40" y2="231.80" stroke="#222" stroke-width="0.9"/>
<text x="336.40" y="233.90" font-size="8.4" text-anchor="end" fill="#000">****</text>
<line x1="322.50" y1="235.30" x2="336.40" y2="235.30" stroke="#222" stroke-width="0.9"/>
<text x="336.40" y="237.40" font-size="8.4" text-anchor="end" fill="#000">**</text>
<line x1="498.20" y1="243.80" x2="498.20" y2="247.60" stroke="#222" stroke-width="0.8"/>
<text x="349.20" y="199.50" font-size="9.6" text-anchor="start" font-weight="bold" fill="#111">f</text>
<text x="417.30" y="199.80" font-size="9.1" text-anchor="start" fill="#000">Taf5l KO</text>
<line x1="417.30" y1="201.40" x2="452.20" y2="201.40" stroke="#333" stroke-width="0.8"/>
<text x="351.00" y="272.60" font-size="8.85" text-anchor="middle" fill="#000" transform="rotate(-90 351.00 272.60)">% donor chimerism</text>
<rect x="377.70" y="287.94" width="8.80" height="33.46" fill="#f5c08a" stroke="#1c1c1c" stroke-width="1.0"/>
<rect x="392.07" y="255.29" width="8.80" height="66.11" fill="#f5c08a" stroke="#1c1c1c" stroke-width="1.0"/>
<rect x="406.44" y="254.03" width="8.80" height="67.37" fill="#f5c08a" stroke="#1c1c1c" stroke-width="1.0"/>
<rect x="420.81" y="256.88" width="8.80" height="64.52" fill="#f5c08a" stroke="#1c1c1c" stroke-width="1.0"/>
<rect x="435.18" y="247.77" width="8.80" height="73.63" fill="#f5c08a" stroke="#1c1c1c" stroke-width="1.0"/>
<rect x="449.55" y="255.69" width="8.80" height="65.71" fill="#f5c08a" stroke="#1c1c1c" stroke-width="1.0"/>
<rect x="463.92" y="256.28" width="8.80" height="65.12" fill="#f5c08a" stroke="#1c1c1c" stroke-width="1.0"/>
<rect x="478.29" y="274.38" width="8.80" height="47.02" fill="#f5c08a" stroke="#1c1c1c" stroke-width="1.0"/>
<rect x="492.66" y="308.00" width="8.80" height="13.40" fill="#f5c08a" stroke="#1c1c1c" stroke-width="1.0"/>
<circle cx="382.10" cy="240.26" r="2.0" fill="#5a5a5a"/>
<circle cx="382.10" cy="267.50" r="2.0" fill="#5a5a5a"/>
<circle cx="382.10" cy="302.70" r="2.0" fill="#5a5a5a"/>
<circle cx="379.30" cy="315.71" r="2.0" fill="#5a5a5a"/>
<circle cx="385.00" cy="313.51" r="2.0" fill="#5a5a5a"/>
<circle cx="396.47" cy="242.30" r="2.0" fill="#5a5a5a"/>
<circle cx="396.47" cy="248.88" r="2.0" fill="#5a5a5a"/>
<circle cx="396.47" cy="254.57" r="2.0" fill="#5a5a5a"/>
<circle cx="393.37" cy="266.20" r="2.0" fill="#5a5a5a"/>
<circle cx="399.37" cy="264.49" r="2.0" fill="#5a5a5a"/>
<circle cx="407.94" cy="242.30" r="2.0" fill="#5a5a5a"/>
<circle cx="413.94" cy="245.14" r="2.0" fill="#5a5a5a"/>
<circle cx="410.84" cy="250.91" r="2.0" fill="#5a5a5a"/>
<circle cx="410.84" cy="261.40" r="2.0" fill="#5a5a5a"/>
<circle cx="410.84" cy="270.42" r="2.0" fill="#5a5a5a"/>
<circle cx="424.91" cy="241.40" r="2.0" fill="#5a5a5a"/>
<circle cx="427.91" cy="245.38" r="2.0" fill="#5a5a5a"/>
<circle cx="421.71" cy="249.21" r="2.0" fill="#5a5a5a"/>
<circle cx="425.21" cy="266.69" r="2.0" fill="#5a5a5a"/>
<circle cx="425.21" cy="281.73" r="2.0" fill="#5a5a5a"/>
<circle cx="439.58" cy="241.08" r="2.0" fill="#5a5a5a"/>
<circle cx="436.78" cy="243.51" r="2.0" fill="#5a5a5a"/>
<circle cx="442.78" cy="243.51" r="2.0" fill="#5a5a5a"/>
<circle cx="439.58" cy="250.91" r="2.0" fill="#5a5a5a"/>
<circle cx="439.58" cy="259.86" r="2.0" fill="#5a5a5a"/>
<circle cx="450.85" cy="244.49" r="2.0" fill="#5a5a5a"/>
<circle cx="456.85" cy="244.49" r="2.0" fill="#5a5a5a"/>
<circle cx="453.95" cy="249.45" r="2.0" fill="#5a5a5a"/>
<circle cx="453.95" cy="266.93" r="2.0" fill="#5a5a5a"/>
<circle cx="453.95" cy="273.11" r="2.0" fill="#5a5a5a"/>
<circle cx="465.12" cy="243.03" r="2.0" fill="#5a5a5a"/>
<circle cx="471.12" cy="245.71" r="2.0" fill="#5a5a5a"/>
<circle cx="468.32" cy="251.64" r="2.0" fill="#5a5a5a"/>
<circle cx="468.32" cy="266.93" r="2.0" fill="#5a5a5a"/>
<circle cx="468.32" cy="274.08" r="2.0" fill="#5a5a5a"/>
<circle cx="482.69" cy="249.29" r="2.0" fill="#5a5a5a"/>
<circle cx="479.69" cy="264.41" r="2.0" fill="#5a5a5a"/>
<circle cx="485.69" cy="264.41" r="2.0" fill="#5a5a5a"/>
<circle cx="485.69" cy="295.22" r="2.0" fill="#5a5a5a"/>
<circle cx="479.69" cy="298.55" r="2.0" fill="#5a5a5a"/>
<circle cx="497.06" cy="286.60" r="2.0" fill="#5a5a5a"/>
<circle cx="497.06" cy="308.80" r="2.0" fill="#5a5a5a"/>
<circle cx="494.56" cy="312.46" r="2.0" fill="#5a5a5a"/>
<circle cx="499.86" cy="314.00" r="2.0" fill="#5a5a5a"/>
<circle cx="497.06" cy="318.15" r="2.0" fill="#5a5a5a"/>
<line x1="382.10" y1="273.22" x2="382.10" y2="302.66" stroke="#111" stroke-width="1.0"/>
<line x1="379.40" y1="273.22" x2="384.80" y2="273.22" stroke="#111" stroke-width="1.0"/>
<line x1="379.40" y1="302.66" x2="384.80" y2="302.66" stroke="#111" stroke-width="1.0"/>
<line x1="396.47" y1="250.74" x2="396.47" y2="259.84" stroke="#111" stroke-width="1.0"/>
<line x1="393.77" y1="250.74" x2="399.17" y2="250.74" stroke="#111" stroke-width="1.0"/>
<line x1="393.77" y1="259.84" x2="399.17" y2="259.84" stroke="#111" stroke-width="1.0"/>
<line x1="410.84" y1="248.79" x2="410.84" y2="259.28" stroke="#111" stroke-width="1.0"/>
<line x1="408.14" y1="248.79" x2="413.54" y2="248.79" stroke="#111" stroke-width="1.0"/>
<line x1="408.14" y1="259.28" x2="413.54" y2="259.28" stroke="#111" stroke-width="1.0"/>
<line x1="425.21" y1="249.32" x2="425.21" y2="264.44" stroke="#111" stroke-width="1.0"/>
<line x1="422.51" y1="249.32" x2="427.91" y2="249.32" stroke="#111" stroke-width="1.0"/>
<line x1="422.51" y1="264.44" x2="427.91" y2="264.44" stroke="#111" stroke-width="1.0"/>
<line x1="439.58" y1="244.33" x2="439.58" y2="251.22" stroke="#111" stroke-width="1.0"/>
<line x1="436.88" y1="244.33" x2="442.28" y2="244.33" stroke="#111" stroke-width="1.0"/>
<line x1="436.88" y1="251.22" x2="442.28" y2="251.22" stroke="#111" stroke-width="1.0"/>
<line x1="453.95" y1="249.70" x2="453.95" y2="261.69" stroke="#111" stroke-width="1.0"/>
<line x1="451.25" y1="249.70" x2="456.65" y2="249.70" stroke="#111" stroke-width="1.0"/>
<line x1="451.25" y1="261.69" x2="456.65" y2="261.69" stroke="#111" stroke-width="1.0"/>
<line x1="468.32" y1="250.20" x2="468.32" y2="262.36" stroke="#111" stroke-width="1.0"/>
<line x1="465.62" y1="250.20" x2="471.02" y2="250.20" stroke="#111" stroke-width="1.0"/>
<line x1="465.62" y1="262.36" x2="471.02" y2="262.36" stroke="#111" stroke-width="1.0"/>
<line x1="482.69" y1="264.77" x2="482.69" y2="283.99" stroke="#111" stroke-width="1.0"/>
<line x1="479.99" y1="264.77" x2="485.39" y2="264.77" stroke="#111" stroke-width="1.0"/>
<line x1="479.99" y1="283.99" x2="485.39" y2="283.99" stroke="#111" stroke-width="1.0"/>
<line x1="497.06" y1="302.45" x2="497.06" y2="313.56" stroke="#111" stroke-width="1.0"/>
<line x1="494.36" y1="302.45" x2="499.76" y2="302.45" stroke="#111" stroke-width="1.0"/>
<line x1="494.36" y1="313.56" x2="499.76" y2="313.56" stroke="#111" stroke-width="1.0"/>
<line x1="372.30" y1="232.30" x2="372.30" y2="321.40" stroke="#222" stroke-width="1.0"/>
<line x1="368.90" y1="321.40" x2="506.70" y2="321.40" stroke="#222" stroke-width="1.0"/>
<line x1="368.90" y1="321.40" x2="372.30" y2="321.40" stroke="#222" stroke-width="1.0"/>
<text x="368.10" y="323.90" font-size="8.45" text-anchor="end" fill="#000">0</text>
<line x1="368.90" y1="305.14" x2="372.30" y2="305.14" stroke="#222" stroke-width="1.0"/>
<text x="368.10" y="307.64" font-size="8.45" text-anchor="end" fill="#000">20</text>
<line x1="368.90" y1="288.88" x2="372.30" y2="288.88" stroke="#222" stroke-width="1.0"/>
<text x="368.10" y="291.38" font-size="8.45" text-anchor="end" fill="#000">40</text>
<line x1="368.90" y1="272.62" x2="372.30" y2="272.62" stroke="#222" stroke-width="1.0"/>
<text x="368.10" y="275.12" font-size="8.45" text-anchor="end" fill="#000">60</text>
<line x1="368.90" y1="256.36" x2="372.30" y2="256.36" stroke="#222" stroke-width="1.0"/>
<text x="368.10" y="258.86" font-size="8.45" text-anchor="end" fill="#000">80</text>
<line x1="368.90" y1="240.10" x2="372.30" y2="240.10" stroke="#222" stroke-width="1.0"/>
<text x="368.10" y="242.60" font-size="8.45" text-anchor="end" fill="#000">100</text>
<line x1="380.40" y1="321.40" x2="380.40" y2="326.40" stroke="#555" stroke-width="0.9"/>
<line x1="394.77" y1="321.40" x2="394.77" y2="326.40" stroke="#555" stroke-width="0.9"/>
<line x1="409.14" y1="321.40" x2="409.14" y2="326.40" stroke="#555" stroke-width="0.9"/>
<line x1="423.51" y1="321.40" x2="423.51" y2="326.40" stroke="#555" stroke-width="0.9"/>
<line x1="437.88" y1="321.40" x2="437.88" y2="326.40" stroke="#555" stroke-width="0.9"/>
<line x1="452.25" y1="321.40" x2="452.25" y2="326.40" stroke="#555" stroke-width="0.9"/>
<line x1="466.62" y1="321.40" x2="466.62" y2="326.40" stroke="#555" stroke-width="0.9"/>
<line x1="480.99" y1="321.40" x2="480.99" y2="326.40" stroke="#555" stroke-width="0.9"/>
<line x1="495.36" y1="321.40" x2="495.36" y2="326.40" stroke="#555" stroke-width="0.9"/>
<text x="383.20" y="333.30" font-size="10" text-anchor="end" fill="#000" transform="rotate(-45 383.20 333.30)">BM LT-HSC</text>
<text x="402.27" y="333.30" font-size="10" text-anchor="end" fill="#000" transform="rotate(-45 402.27 333.30)">BM ST-HSC/LT-HSC</text>
<text x="417.04" y="333.30" font-size="10" text-anchor="end" fill="#000" transform="rotate(-45 417.04 333.30)">BM pHSC/MPP</text>
<text x="429.31" y="333.30" font-size="10" text-anchor="end" fill="#000" transform="rotate(-45 429.31 333.30)">BM CMP</text>
<text x="445.48" y="333.30" font-size="10" text-anchor="end" fill="#000" transform="rotate(-45 445.48 333.30)">BM GMP</text>
<text x="458.05" y="333.30" font-size="10" text-anchor="end" fill="#000" transform="rotate(-45 458.05 333.30)">BM MEP</text>
<text x="471.52" y="333.30" font-size="10" text-anchor="end" fill="#000" transform="rotate(-45 471.52 333.30)">BM Lineage-</text>
<text x="485.39" y="333.30" font-size="10" text-anchor="end" fill="#000" transform="rotate(-45 485.39 333.30)">BM Lineage+</text>
<text x="500.56" y="333.30" font-size="10" text-anchor="end" fill="#000" transform="rotate(-45 500.56 333.30)">PB WBCs</text>
<line x1="382.20" y1="218.90" x2="498.60" y2="218.90" stroke="#222" stroke-width="0.9"/>
<text x="498.60" y="218.10" font-size="8.5" text-anchor="end" fill="#000">ns</text>
<line x1="393.00" y1="223.40" x2="498.60" y2="223.40" stroke="#222" stroke-width="0.9"/>
<text x="498.60" y="225.50" font-size="8.4" text-anchor="end" fill="#000">***</text>
<line x1="407.70" y1="228.10" x2="498.60" y2="228.10" stroke="#222" stroke-width="0.9"/>
<text x="498.60" y="230.20" font-size="8.4" text-anchor="end" fill="#000">***</text>
<line x1="422.00" y1="232.20" x2="498.60" y2="232.20" stroke="#222" stroke-width="0.9"/>
<text x="498.60" y="234.30" font-size="8.4" text-anchor="end" fill="#000">***</text>
<line x1="436.30" y1="235.70" x2="498.60" y2="235.70" stroke="#222" stroke-width="0.9"/>
<text x="498.60" y="237.80" font-size="8.4" text-anchor="end" fill="#000">****</text>
<line x1="450.60" y1="240.20" x2="498.60" y2="240.20" stroke="#222" stroke-width="0.9"/>
<text x="498.60" y="242.30" font-size="8.4" text-anchor="end" fill="#000">***</text>
<line x1="465.00" y1="243.80" x2="498.60" y2="243.80" stroke="#222" stroke-width="0.9"/>
<text x="498.60" y="245.90" font-size="8.4" text-anchor="end" fill="#000">***</text>
<line x1="484.30" y1="247.50" x2="498.60" y2="247.50" stroke="#222" stroke-width="0.9"/>
<text x="498.60" y="249.60" font-size="8.4" text-anchor="end" fill="#000">*</text>
<text x="525.80" y="199.50" font-size="9.6" text-anchor="start" font-weight="bold" fill="#111">g</text>
<text x="591.70" y="199.80" font-size="9.1" text-anchor="start" fill="#000">Tada1 KO</text>
<line x1="591.70" y1="201.40" x2="632.17" y2="201.40" stroke="#333" stroke-width="0.8"/>
<text x="529.70" y="272.60" font-size="8.85" text-anchor="middle" fill="#000" transform="rotate(-90 529.70 272.60)">% donor chimerism</text>
<rect x="557.40" y="307.57" width="8.80" height="14.33" fill="#ee6238" stroke="#1c1c1c" stroke-width="1.0"/>
<rect x="571.77" y="270.81" width="8.80" height="51.09" fill="#ee6238" stroke="#1c1c1c" stroke-width="1.0"/>
<rect x="586.14" y="268.60" width="8.80" height="53.30" fill="#ee6238" stroke="#1c1c1c" stroke-width="1.0"/>
<rect x="600.51" y="279.90" width="8.80" height="42.00" fill="#ee6238" stroke="#1c1c1c" stroke-width="1.0"/>
<rect x="614.88" y="263.35" width="8.80" height="58.55" fill="#ee6238" stroke="#1c1c1c" stroke-width="1.0"/>
<rect x="629.25" y="270.89" width="8.80" height="51.01" fill="#ee6238" stroke="#1c1c1c" stroke-width="1.0"/>
<rect x="643.62" y="263.59" width="8.80" height="58.31" fill="#ee6238" stroke="#1c1c1c" stroke-width="1.0"/>
<rect x="657.99" y="285.94" width="8.80" height="35.96" fill="#ee6238" stroke="#1c1c1c" stroke-width="1.0"/>
<rect x="672.36" y="311.00" width="8.80" height="10.90" fill="#ee6238" stroke="#1c1c1c" stroke-width="1.0"/>
<circle cx="561.80" cy="276.91" r="2.0" fill="#5a5a5a"/>
<circle cx="561.80" cy="304.07" r="2.0" fill="#5a5a5a"/>
<circle cx="559.20" cy="317.48" r="2.0" fill="#5a5a5a"/>
<circle cx="564.40" cy="317.48" r="2.0" fill="#5a5a5a"/>
<circle cx="561.80" cy="321.90" r="2.0" fill="#5a5a5a"/>
<circle cx="576.17" cy="258.50" r="2.0" fill="#5a5a5a"/>
<circle cx="572.47" cy="264.56" r="2.0" fill="#5a5a5a"/>
<circle cx="578.77" cy="262.27" r="2.0" fill="#5a5a5a"/>
<circle cx="576.17" cy="271.27" r="2.0" fill="#5a5a5a"/>
<circle cx="576.17" cy="297.44" r="2.0" fill="#5a5a5a"/>
<circle cx="587.54" cy="248.69" r="2.0" fill="#5a5a5a"/>
<circle cx="593.84" cy="250.98" r="2.0" fill="#5a5a5a"/>
<circle cx="590.54" cy="259.49" r="2.0" fill="#5a5a5a"/>
<circle cx="590.54" cy="279.85" r="2.0" fill="#5a5a5a"/>
<circle cx="590.54" cy="303.99" r="2.0" fill="#5a5a5a"/>
<circle cx="601.81" cy="256.79" r="2.0" fill="#5a5a5a"/>
<circle cx="608.11" cy="258.01" r="2.0" fill="#5a5a5a"/>
<circle cx="604.91" cy="266.60" r="2.0" fill="#5a5a5a"/>
<circle cx="604.91" cy="301.04" r="2.0" fill="#5a5a5a"/>
<circle cx="604.91" cy="317.07" r="2.0" fill="#5a5a5a"/>
<circle cx="615.88" cy="248.28" r="2.0" fill="#5a5a5a"/>
<circle cx="622.18" cy="245.74" r="2.0" fill="#5a5a5a"/>
<circle cx="619.28" cy="270.12" r="2.0" fill="#5a5a5a"/>
<circle cx="619.28" cy="304.31" r="2.0" fill="#5a5a5a"/>
<circle cx="615.88" cy="248.28" r="2.0" fill="#5a5a5a"/>
<circle cx="630.95" cy="248.69" r="2.0" fill="#5a5a5a"/>
<circle cx="636.95" cy="251.72" r="2.0" fill="#5a5a5a"/>
<circle cx="630.95" cy="254.01" r="2.0" fill="#5a5a5a"/>
<circle cx="633.65" cy="294.50" r="2.0" fill="#5a5a5a"/>
<circle cx="633.65" cy="305.54" r="2.0" fill="#5a5a5a"/>
<circle cx="644.82" cy="245.99" r="2.0" fill="#5a5a5a"/>
<circle cx="650.82" cy="248.69" r="2.0" fill="#5a5a5a"/>
<circle cx="648.02" cy="253.60" r="2.0" fill="#5a5a5a"/>
<circle cx="648.02" cy="271.10" r="2.0" fill="#5a5a5a"/>
<circle cx="648.02" cy="298.59" r="2.0" fill="#5a5a5a"/>
<circle cx="662.39" cy="254.25" r="2.0" fill="#5a5a5a"/>
<circle cx="662.39" cy="273.31" r="2.0" fill="#5a5a5a"/>
<circle cx="662.39" cy="281.65" r="2.0" fill="#5a5a5a"/>
<circle cx="662.39" cy="303.50" r="2.0" fill="#5a5a5a"/>
<circle cx="662.39" cy="316.99" r="2.0" fill="#5a5a5a"/>
<circle cx="673.56" cy="302.76" r="2.0" fill="#5a5a5a"/>
<circle cx="679.56" cy="305.38" r="2.0" fill="#5a5a5a"/>
<circle cx="673.56" cy="317.24" r="2.0" fill="#5a5a5a"/>
<circle cx="679.56" cy="317.24" r="2.0" fill="#5a5a5a"/>
<circle cx="676.76" cy="312.41" r="2.0" fill="#5a5a5a"/>
<line x1="561.80" y1="299.34" x2="561.80" y2="315.80" stroke="#111" stroke-width="1.0"/>
<line x1="559.10" y1="299.34" x2="564.50" y2="299.34" stroke="#111" stroke-width="1.0"/>
<line x1="559.10" y1="315.80" x2="564.50" y2="315.80" stroke="#111" stroke-width="1.0"/>
<line x1="576.17" y1="263.83" x2="576.17" y2="277.78" stroke="#111" stroke-width="1.0"/>
<line x1="573.47" y1="263.83" x2="578.87" y2="263.83" stroke="#111" stroke-width="1.0"/>
<line x1="573.47" y1="277.78" x2="578.87" y2="277.78" stroke="#111" stroke-width="1.0"/>
<line x1="590.54" y1="258.19" x2="590.54" y2="279.01" stroke="#111" stroke-width="1.0"/>
<line x1="587.84" y1="258.19" x2="593.24" y2="258.19" stroke="#111" stroke-width="1.0"/>
<line x1="587.84" y1="279.01" x2="593.24" y2="279.01" stroke="#111" stroke-width="1.0"/>
<line x1="604.91" y1="267.62" x2="604.91" y2="292.19" stroke="#111" stroke-width="1.0"/>
<line x1="602.21" y1="267.62" x2="607.61" y2="267.62" stroke="#111" stroke-width="1.0"/>
<line x1="602.21" y1="292.19" x2="607.61" y2="292.19" stroke="#111" stroke-width="1.0"/>
<line x1="619.28" y1="252.19" x2="619.28" y2="274.50" stroke="#111" stroke-width="1.0"/>
<line x1="616.58" y1="252.19" x2="621.98" y2="252.19" stroke="#111" stroke-width="1.0"/>
<line x1="616.58" y1="274.50" x2="621.98" y2="274.50" stroke="#111" stroke-width="1.0"/>
<line x1="633.65" y1="258.84" x2="633.65" y2="282.94" stroke="#111" stroke-width="1.0"/>
<line x1="630.95" y1="258.84" x2="636.35" y2="258.84" stroke="#111" stroke-width="1.0"/>
<line x1="630.95" y1="282.94" x2="636.35" y2="282.94" stroke="#111" stroke-width="1.0"/>
<line x1="648.02" y1="253.81" x2="648.02" y2="273.37" stroke="#111" stroke-width="1.0"/>
<line x1="645.32" y1="253.81" x2="650.72" y2="253.81" stroke="#111" stroke-width="1.0"/>
<line x1="645.32" y1="273.37" x2="650.72" y2="273.37" stroke="#111" stroke-width="1.0"/>
<line x1="662.39" y1="274.86" x2="662.39" y2="297.02" stroke="#111" stroke-width="1.0"/>
<line x1="659.69" y1="274.86" x2="665.09" y2="274.86" stroke="#111" stroke-width="1.0"/>
<line x1="659.69" y1="297.02" x2="665.09" y2="297.02" stroke="#111" stroke-width="1.0"/>
<line x1="676.76" y1="308.01" x2="676.76" y2="314.00" stroke="#111" stroke-width="1.0"/>
<line x1="674.06" y1="308.01" x2="679.46" y2="308.01" stroke="#111" stroke-width="1.0"/>
<line x1="674.06" y1="314.00" x2="679.46" y2="314.00" stroke="#111" stroke-width="1.0"/>
<line x1="551.90" y1="232.30" x2="551.90" y2="321.90" stroke="#222" stroke-width="1.0"/>
<line x1="548.50" y1="321.90" x2="685.00" y2="321.90" stroke="#222" stroke-width="1.0"/>
<line x1="548.50" y1="321.90" x2="551.90" y2="321.90" stroke="#222" stroke-width="1.0"/>
<text x="547.70" y="324.40" font-size="8.45" text-anchor="end" fill="#000">0</text>
<line x1="548.50" y1="305.54" x2="551.90" y2="305.54" stroke="#222" stroke-width="1.0"/>
<text x="547.70" y="308.04" font-size="8.45" text-anchor="end" fill="#000">20</text>
<line x1="548.50" y1="289.18" x2="551.90" y2="289.18" stroke="#222" stroke-width="1.0"/>
<text x="547.70" y="291.68" font-size="8.45" text-anchor="end" fill="#000">40</text>
<line x1="548.50" y1="272.82" x2="551.90" y2="272.82" stroke="#222" stroke-width="1.0"/>
<text x="547.70" y="275.32" font-size="8.45" text-anchor="end" fill="#000">60</text>
<line x1="548.50" y1="256.46" x2="551.90" y2="256.46" stroke="#222" stroke-width="1.0"/>
<text x="547.70" y="258.96" font-size="8.45" text-anchor="end" fill="#000">80</text>
<line x1="548.50" y1="240.10" x2="551.90" y2="240.10" stroke="#222" stroke-width="1.0"/>
<text x="547.70" y="242.60" font-size="8.45" text-anchor="end" fill="#000">100</text>
<line x1="561.20" y1="321.90" x2="561.20" y2="326.90" stroke="#555" stroke-width="0.9"/>
<line x1="575.57" y1="321.90" x2="575.57" y2="326.90" stroke="#555" stroke-width="0.9"/>
<line x1="589.94" y1="321.90" x2="589.94" y2="326.90" stroke="#555" stroke-width="0.9"/>
<line x1="604.31" y1="321.90" x2="604.31" y2="326.90" stroke="#555" stroke-width="0.9"/>
<line x1="618.68" y1="321.90" x2="618.68" y2="326.90" stroke="#555" stroke-width="0.9"/>
<line x1="633.05" y1="321.90" x2="633.05" y2="326.90" stroke="#555" stroke-width="0.9"/>
<line x1="647.42" y1="321.90" x2="647.42" y2="326.90" stroke="#555" stroke-width="0.9"/>
<line x1="661.79" y1="321.90" x2="661.79" y2="326.90" stroke="#555" stroke-width="0.9"/>
<line x1="676.16" y1="321.90" x2="676.16" y2="326.90" stroke="#555" stroke-width="0.9"/>
<text x="564.00" y="334.80" font-size="10" text-anchor="end" fill="#000" transform="rotate(-45 564.00 334.80)">BM LT-HSC</text>
<text x="583.07" y="334.80" font-size="10" text-anchor="end" fill="#000" transform="rotate(-45 583.07 334.80)">BM ST-HSC/LT-HSC</text>
<text x="597.84" y="334.80" font-size="10" text-anchor="end" fill="#000" transform="rotate(-45 597.84 334.80)">BM pHSC/MPP</text>
<text x="610.11" y="334.80" font-size="10" text-anchor="end" fill="#000" transform="rotate(-45 610.11 334.80)">BM CMP</text>
<text x="626.28" y="334.80" font-size="10" text-anchor="end" fill="#000" transform="rotate(-45 626.28 334.80)">BM GMP</text>
<text x="638.85" y="334.80" font-size="10" text-anchor="end" fill="#000" transform="rotate(-45 638.85 334.80)">BM MEP</text>
<text x="652.32" y="334.80" font-size="10" text-anchor="end" fill="#000" transform="rotate(-45 652.32 334.80)">BM Lineage-</text>
<text x="666.19" y="334.80" font-size="10" text-anchor="end" fill="#000" transform="rotate(-45 666.19 334.80)">BM Lineage+</text>
<text x="681.36" y="334.80" font-size="10" text-anchor="end" fill="#000" transform="rotate(-45 681.36 334.80)">PB WBCs</text>
<line x1="567.90" y1="223.40" x2="684.30" y2="223.40" stroke="#222" stroke-width="0.9"/>
<text x="684.30" y="222.60" font-size="8.5" text-anchor="end" fill="#000">ns</text>
<line x1="579.10" y1="227.80" x2="684.30" y2="227.80" stroke="#222" stroke-width="0.9"/>
<text x="684.30" y="229.90" font-size="8.4" text-anchor="end" fill="#000">*</text>
<line x1="593.00" y1="232.10" x2="684.30" y2="232.10" stroke="#222" stroke-width="0.9"/>
<text x="684.30" y="234.20" font-size="8.4" text-anchor="end" fill="#000">*</text>
<line x1="607.80" y1="236.50" x2="684.30" y2="236.50" stroke="#222" stroke-width="0.9"/>
<text x="684.30" y="235.70" font-size="8.5" text-anchor="end" fill="#000">ns</text>
<line x1="622.00" y1="241.10" x2="684.30" y2="241.10" stroke="#222" stroke-width="0.9"/>
<text x="684.30" y="243.20" font-size="8.4" text-anchor="end" fill="#000">**</text>
<line x1="636.20" y1="245.40" x2="684.30" y2="245.40" stroke="#222" stroke-width="0.9"/>
<text x="684.30" y="247.50" font-size="8.4" text-anchor="end" fill="#000">*</text>
<line x1="651.80" y1="250.20" x2="684.30" y2="250.20" stroke="#222" stroke-width="0.9"/>
<text x="684.30" y="252.30" font-size="8.4" text-anchor="end" fill="#000">*</text>
<line x1="670.20" y1="256.20" x2="684.30" y2="256.20" stroke="#222" stroke-width="0.9"/>
<text x="684.30" y="255.40" font-size="8.5" text-anchor="end" fill="#000">ns</text>
<text x="10.40" y="428.90" font-size="9.6" text-anchor="start" font-weight="bold" fill="#111">h</text>
<rect x="65.35" y="500.60" width="9.30" height="6.70" fill="#646163" stroke="#1c1c1c" stroke-width="1.0"/>
<rect x="82.75" y="507.30" width="9.30" height="44.30" fill="#d04a3c" stroke="#1c1c1c" stroke-width="1.0"/>
<rect x="100.05" y="507.30" width="9.30" height="45.32" fill="#f5c08a" stroke="#1c1c1c" stroke-width="1.0"/>
<rect x="117.25" y="507.30" width="9.30" height="43.68" fill="#ee6238" stroke="#1c1c1c" stroke-width="1.0"/>
<rect x="145.75" y="507.30" width="9.30" height="1.54" fill="#646163" stroke="#1c1c1c" stroke-width="1.0"/>
<rect x="163.15" y="507.30" width="9.30" height="80.95" fill="#d04a3c" stroke="#1c1c1c" stroke-width="1.0"/>
<rect x="180.45" y="507.30" width="9.30" height="81.99" fill="#f5c08a" stroke="#1c1c1c" stroke-width="1.0"/>
<rect x="197.65" y="507.30" width="9.30" height="61.01" fill="#ee6238" stroke="#1c1c1c" stroke-width="1.0"/>
<rect x="226.15" y="483.38" width="9.30" height="23.92" fill="#646163" stroke="#1c1c1c" stroke-width="1.0"/>
<rect x="243.55" y="507.30" width="9.30" height="46.38" fill="#d04a3c" stroke="#1c1c1c" stroke-width="1.0"/>
<rect x="260.85" y="507.30" width="9.30" height="59.20" fill="#f5c08a" stroke="#1c1c1c" stroke-width="1.0"/>
<rect x="278.05" y="507.30" width="9.30" height="41.83" fill="#ee6238" stroke="#1c1c1c" stroke-width="1.0"/>
<line x1="58.60" y1="507.30" x2="294.00" y2="507.30" stroke="#222" stroke-width="1.0"/>
<line x1="58.60" y1="455.30" x2="58.60" y2="611.30" stroke="#222" stroke-width="1.0"/>
<line x1="58.60" y1="611.30" x2="294.00" y2="611.30" stroke="#222" stroke-width="1.0"/>
<line x1="52.60" y1="455.30" x2="58.60" y2="455.30" stroke="#222" stroke-width="1.0"/>
<text x="46.20" y="458.70" font-size="9.4" text-anchor="end" fill="#000">50</text>
<line x1="52.60" y1="507.30" x2="58.60" y2="507.30" stroke="#222" stroke-width="1.0"/>
<text x="46.20" y="510.70" font-size="9.4" text-anchor="end" fill="#000">0</text>
<line x1="52.60" y1="559.30" x2="58.60" y2="559.30" stroke="#222" stroke-width="1.0"/>
<text x="46.20" y="562.70" font-size="9.4" text-anchor="end" fill="#000">-50</text>
<line x1="52.60" y1="611.30" x2="58.60" y2="611.30" stroke="#222" stroke-width="1.0"/>
<text x="46.20" y="614.70" font-size="9.4" text-anchor="end" fill="#000">-100</text>
<line x1="96.00" y1="611.30" x2="96.00" y2="618.00" stroke="#222" stroke-width="1.0"/>
<text x="92.00" y="631.50" font-size="9.7" text-anchor="middle" fill="#000">Myeloid</text>
<line x1="176.40" y1="611.30" x2="176.40" y2="618.00" stroke="#222" stroke-width="1.0"/>
<text x="172.40" y="631.50" font-size="9.7" text-anchor="middle" fill="#000">B cell</text>
<line x1="256.80" y1="611.30" x2="256.80" y2="618.00" stroke="#222" stroke-width="1.0"/>
<text x="252.80" y="631.50" font-size="9.7" text-anchor="middle" fill="#000">T cell</text>
<circle cx="72.70" cy="492.74" r="2.8" fill="#1e1e1e" fill-opacity="0.66"/>
<circle cx="67.30" cy="497.94" r="2.8" fill="#1e1e1e" fill-opacity="0.66"/>
<circle cx="68.40" cy="503.66" r="2.8" fill="#1e1e1e" fill-opacity="0.66"/>
<circle cx="71.60" cy="504.18" r="2.8" fill="#1e1e1e" fill-opacity="0.66"/>
<circle cx="70.00" cy="504.49" r="2.8" fill="#1e1e1e" fill-opacity="0.66"/>
<circle cx="84.70" cy="533.82" r="2.8" fill="#1e1e1e" fill-opacity="0.66"/>
<circle cx="89.50" cy="539.44" r="2.8" fill="#1e1e1e" fill-opacity="0.66"/>
<circle cx="84.70" cy="556.18" r="2.8" fill="#1e1e1e" fill-opacity="0.66"/>
<circle cx="89.80" cy="560.34" r="2.8" fill="#1e1e1e" fill-opacity="0.66"/>
<circle cx="87.00" cy="568.24" r="2.8" fill="#1e1e1e" fill-opacity="0.66"/>
<circle cx="104.50" cy="540.48" r="2.8" fill="#1e1e1e" fill-opacity="0.66"/>
<circle cx="104.50" cy="547.34" r="2.8" fill="#1e1e1e" fill-opacity="0.66"/>
<circle cx="101.60" cy="556.18" r="2.8" fill="#1e1e1e" fill-opacity="0.66"/>
<circle cx="107.10" cy="556.70" r="2.8" fill="#1e1e1e" fill-opacity="0.66"/>
<circle cx="104.50" cy="562.42" r="2.8" fill="#1e1e1e" fill-opacity="0.66"/>
<circle cx="121.90" cy="528.10" r="2.8" fill="#1e1e1e" fill-opacity="0.66"/>
<circle cx="118.30" cy="552.02" r="2.8" fill="#1e1e1e" fill-opacity="0.66"/>
<circle cx="124.80" cy="552.02" r="2.8" fill="#1e1e1e" fill-opacity="0.66"/>
<circle cx="118.30" cy="561.38" r="2.8" fill="#1e1e1e" fill-opacity="0.66"/>
<circle cx="124.80" cy="561.38" r="2.8" fill="#1e1e1e" fill-opacity="0.66"/>
<circle cx="150.40" cy="493.57" r="2.8" fill="#1e1e1e" fill-opacity="0.66"/>
<circle cx="147.70" cy="503.97" r="2.8" fill="#1e1e1e" fill-opacity="0.66"/>
<circle cx="153.30" cy="507.30" r="2.8" fill="#1e1e1e" fill-opacity="0.66"/>
<circle cx="150.40" cy="510.63" r="2.8" fill="#1e1e1e" fill-opacity="0.66"/>
<circle cx="150.40" cy="528.72" r="2.8" fill="#1e1e1e" fill-opacity="0.66"/>
<circle cx="167.80" cy="561.59" r="2.8" fill="#1e1e1e" fill-opacity="0.66"/>
<circle cx="165.10" cy="591.54" r="2.8" fill="#1e1e1e" fill-opacity="0.66"/>
<circle cx="170.60" cy="591.54" r="2.8" fill="#1e1e1e" fill-opacity="0.66"/>
<circle cx="165.10" cy="598.30" r="2.8" fill="#1e1e1e" fill-opacity="0.66"/>
<circle cx="170.60" cy="598.30" r="2.8" fill="#1e1e1e" fill-opacity="0.66"/>
<circle cx="185.30" cy="570.43" r="2.8" fill="#1e1e1e" fill-opacity="0.66"/>
<circle cx="185.30" cy="582.18" r="2.8" fill="#1e1e1e" fill-opacity="0.66"/>
<circle cx="182.40" cy="594.66" r="2.8" fill="#1e1e1e" fill-opacity="0.66"/>
<circle cx="187.90" cy="596.74" r="2.8" fill="#1e1e1e" fill-opacity="0.66"/>
<circle cx="182.40" cy="602.46" r="2.8" fill="#1e1e1e" fill-opacity="0.66"/>
<circle cx="202.40" cy="528.72" r="2.8" fill="#1e1e1e" fill-opacity="0.66"/>
<circle cx="202.40" cy="556.91" r="2.8" fill="#1e1e1e" fill-opacity="0.66"/>
<circle cx="199.80" cy="580.62" r="2.8" fill="#1e1e1e" fill-opacity="0.66"/>
<circle cx="205.30" cy="583.74" r="2.8" fill="#1e1e1e" fill-opacity="0.66"/>
<circle cx="202.40" cy="591.54" r="2.8" fill="#1e1e1e" fill-opacity="0.66"/>
<circle cx="230.20" cy="459.15" r="2.8" fill="#1e1e1e" fill-opacity="0.66"/>
<circle cx="227.80" cy="484.52" r="2.8" fill="#1e1e1e" fill-opacity="0.66"/>
<circle cx="233.80" cy="484.52" r="2.8" fill="#1e1e1e" fill-opacity="0.66"/>
<circle cx="230.80" cy="483.48" r="2.8" fill="#1e1e1e" fill-opacity="0.66"/>
<circle cx="230.20" cy="505.22" r="2.8" fill="#1e1e1e" fill-opacity="0.66"/>
<circle cx="248.00" cy="511.88" r="2.8" fill="#1e1e1e" fill-opacity="0.66"/>
<circle cx="248.00" cy="532.88" r="2.8" fill="#1e1e1e" fill-opacity="0.66"/>
<circle cx="245.00" cy="568.14" r="2.8" fill="#1e1e1e" fill-opacity="0.66"/>
<circle cx="251.00" cy="568.14" r="2.8" fill="#1e1e1e" fill-opacity="0.66"/>
<circle cx="248.00" cy="587.38" r="2.8" fill="#1e1e1e" fill-opacity="0.66"/>
<circle cx="264.90" cy="539.54" r="2.8" fill="#1e1e1e" fill-opacity="0.66"/>
<circle cx="264.90" cy="546.40" r="2.8" fill="#1e1e1e" fill-opacity="0.66"/>
<circle cx="264.90" cy="566.58" r="2.8" fill="#1e1e1e" fill-opacity="0.66"/>
<circle cx="264.90" cy="580.62" r="2.8" fill="#1e1e1e" fill-opacity="0.66"/>
<circle cx="264.90" cy="599.34" r="2.8" fill="#1e1e1e" fill-opacity="0.66"/>
<circle cx="282.30" cy="515.72" r="2.8" fill="#1e1e1e" fill-opacity="0.66"/>
<circle cx="279.30" cy="552.54" r="2.8" fill="#1e1e1e" fill-opacity="0.66"/>
<circle cx="284.70" cy="552.54" r="2.8" fill="#1e1e1e" fill-opacity="0.66"/>
<circle cx="279.30" cy="563.46" r="2.8" fill="#1e1e1e" fill-opacity="0.66"/>
<circle cx="284.70" cy="561.38" r="2.8" fill="#1e1e1e" fill-opacity="0.66"/>
<line x1="70.00" y1="498.30" x2="70.00" y2="502.91" stroke="#111" stroke-width="1.0"/>
<line x1="67.00" y1="498.30" x2="73.00" y2="498.30" stroke="#111" stroke-width="1.0"/>
<line x1="67.00" y1="502.91" x2="73.00" y2="502.91" stroke="#111" stroke-width="1.0"/>
<line x1="87.40" y1="545.13" x2="87.40" y2="558.08" stroke="#111" stroke-width="1.0"/>
<line x1="84.40" y1="545.13" x2="90.40" y2="545.13" stroke="#111" stroke-width="1.0"/>
<line x1="84.40" y1="558.08" x2="90.40" y2="558.08" stroke="#111" stroke-width="1.0"/>
<line x1="104.70" y1="548.75" x2="104.70" y2="556.50" stroke="#111" stroke-width="1.0"/>
<line x1="101.70" y1="548.75" x2="107.70" y2="548.75" stroke="#111" stroke-width="1.0"/>
<line x1="101.70" y1="556.50" x2="107.70" y2="556.50" stroke="#111" stroke-width="1.0"/>
<line x1="121.90" y1="544.89" x2="121.90" y2="557.07" stroke="#111" stroke-width="1.0"/>
<line x1="118.90" y1="544.89" x2="124.90" y2="544.89" stroke="#111" stroke-width="1.0"/>
<line x1="118.90" y1="557.07" x2="124.90" y2="557.07" stroke="#111" stroke-width="1.0"/>
<line x1="150.40" y1="503.10" x2="150.40" y2="514.57" stroke="#111" stroke-width="1.0"/>
<line x1="147.40" y1="503.10" x2="153.40" y2="503.10" stroke="#111" stroke-width="1.0"/>
<line x1="147.40" y1="514.57" x2="153.40" y2="514.57" stroke="#111" stroke-width="1.0"/>
<line x1="167.80" y1="581.42" x2="167.80" y2="595.09" stroke="#111" stroke-width="1.0"/>
<line x1="164.80" y1="581.42" x2="170.80" y2="581.42" stroke="#111" stroke-width="1.0"/>
<line x1="164.80" y1="595.09" x2="170.80" y2="595.09" stroke="#111" stroke-width="1.0"/>
<line x1="185.10" y1="583.53" x2="185.10" y2="595.06" stroke="#111" stroke-width="1.0"/>
<line x1="182.10" y1="583.53" x2="188.10" y2="583.53" stroke="#111" stroke-width="1.0"/>
<line x1="182.10" y1="595.06" x2="188.10" y2="595.06" stroke="#111" stroke-width="1.0"/>
<line x1="202.30" y1="556.85" x2="202.30" y2="579.77" stroke="#111" stroke-width="1.0"/>
<line x1="199.30" y1="556.85" x2="205.30" y2="556.85" stroke="#111" stroke-width="1.0"/>
<line x1="199.30" y1="579.77" x2="205.30" y2="579.77" stroke="#111" stroke-width="1.0"/>
<line x1="230.80" y1="476.08" x2="230.80" y2="490.68" stroke="#111" stroke-width="1.0"/>
<line x1="227.80" y1="476.08" x2="233.80" y2="476.08" stroke="#111" stroke-width="1.0"/>
<line x1="227.80" y1="490.68" x2="233.80" y2="490.68" stroke="#111" stroke-width="1.0"/>
<line x1="248.20" y1="540.02" x2="248.20" y2="567.35" stroke="#111" stroke-width="1.0"/>
<line x1="245.20" y1="540.02" x2="251.20" y2="540.02" stroke="#111" stroke-width="1.0"/>
<line x1="245.20" y1="567.35" x2="251.20" y2="567.35" stroke="#111" stroke-width="1.0"/>
<line x1="265.50" y1="555.52" x2="265.50" y2="577.47" stroke="#111" stroke-width="1.0"/>
<line x1="262.50" y1="555.52" x2="268.50" y2="555.52" stroke="#111" stroke-width="1.0"/>
<line x1="262.50" y1="577.47" x2="268.50" y2="577.47" stroke="#111" stroke-width="1.0"/>
<line x1="282.70" y1="540.48" x2="282.70" y2="557.77" stroke="#111" stroke-width="1.0"/>
<line x1="279.70" y1="540.48" x2="285.70" y2="540.48" stroke="#111" stroke-width="1.0"/>
<line x1="279.70" y1="557.77" x2="285.70" y2="557.77" stroke="#111" stroke-width="1.0"/>
<line x1="69.20" y1="441.40" x2="121.70" y2="441.40" stroke="#222" stroke-width="0.9"/>
<text x="69.20" y="444.40" font-size="8.4" text-anchor="start" fill="#000">***</text>
<line x1="69.20" y1="446.70" x2="103.80" y2="446.70" stroke="#222" stroke-width="0.9"/>
<text x="69.20" y="449.70" font-size="8.4" text-anchor="start" fill="#000">***</text>
<line x1="69.20" y1="451.70" x2="83.00" y2="451.70" stroke="#222" stroke-width="0.9"/>
<text x="69.20" y="454.70" font-size="8.4" text-anchor="start" fill="#000">***</text>
<line x1="147.10" y1="441.40" x2="199.70" y2="441.40" stroke="#222" stroke-width="0.9"/>
<text x="147.10" y="444.40" font-size="8.4" text-anchor="start" fill="#000">****</text>
<line x1="147.10" y1="446.70" x2="182.00" y2="446.70" stroke="#222" stroke-width="0.9"/>
<text x="147.10" y="449.70" font-size="8.4" text-anchor="start" fill="#000">****</text>
<line x1="147.10" y1="451.70" x2="161.20" y2="451.70" stroke="#222" stroke-width="0.9"/>
<text x="147.10" y="454.70" font-size="8.4" text-anchor="start" fill="#000">****</text>
<line x1="228.00" y1="441.40" x2="281.10" y2="441.40" stroke="#222" stroke-width="0.9"/>
<text x="228.00" y="444.40" font-size="8.4" text-anchor="start" fill="#000">****</text>
<line x1="228.00" y1="446.70" x2="262.50" y2="446.70" stroke="#222" stroke-width="0.9"/>
<text x="228.00" y="449.70" font-size="8.4" text-anchor="start" fill="#000">****</text>
<line x1="228.00" y1="451.70" x2="242.40" y2="451.70" stroke="#222" stroke-width="0.9"/>
<text x="228.00" y="454.70" font-size="8.4" text-anchor="start" fill="#000">****</text>
<text x="15.70" y="525.20" font-size="9.5" text-anchor="middle" fill="#000" transform="rotate(-90 15.70 525.20)">Difference in % domor</text>
<text x="26.40" y="525.60" font-size="9.5" text-anchor="middle" fill="#000" transform="rotate(-90 26.40 525.60)">chimerism to HSPC</text>
<rect x="314" y="461.4" width="10" height="10" fill="#646163"/>
<text x="328.00" y="470.30" font-size="9.5" text-anchor="start" fill="#000">Control sgRNA</text>
<rect x="314" y="484.8" width="10" height="10" fill="#d04a3c"/>
<text x="328.00" y="493.70" font-size="9.5" text-anchor="start" fill="#000">Tada2b KO</text>
<rect x="314" y="506.4" width="10" height="10" fill="#f5c08a"/>
<text x="328.00" y="515.30" font-size="9.5" text-anchor="start" fill="#000">Taf5l KO</text>
<rect x="314" y="528.2" width="10" height="10" fill="#ee6238"/>
<text x="328.00" y="537.10" font-size="9.5" text-anchor="start" fill="#000">Tada1 KO</text>
</svg>
</body></html>
